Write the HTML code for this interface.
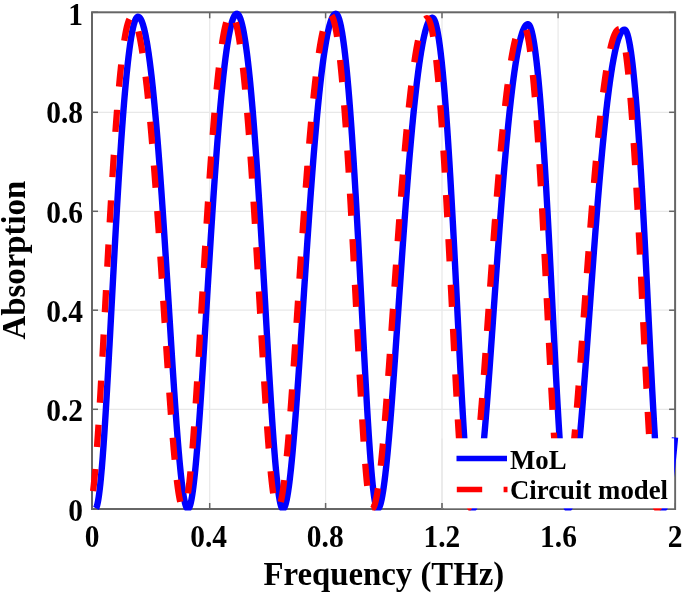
<!DOCTYPE html>
<html><head><meta charset="utf-8"><style>
html,body{margin:0;padding:0;background:#fff;}
svg{display:block;filter:blur(0.45px);}
text{font-family:"Liberation Serif",serif;font-weight:bold;fill:#000;}
</style></head><body>
<svg width="685" height="597" viewBox="0 0 685 597">
<rect width="685" height="597" fill="#fff"/>
<g stroke="#e8e8e8" stroke-width="1.2"><line x1="209.70" y1="12.3" x2="209.70" y2="509.0"/><line x1="325.60" y1="12.3" x2="325.60" y2="509.0"/><line x1="442.00" y1="12.3" x2="442.00" y2="509.0"/><line x1="558.10" y1="12.3" x2="558.10" y2="509.0"/><line x1="92.0" y1="409.30" x2="675.1" y2="409.30"/><line x1="92.0" y1="310.20" x2="675.1" y2="310.20"/><line x1="92.0" y1="211.30" x2="675.1" y2="211.30"/><line x1="92.0" y1="112.30" x2="675.1" y2="112.30"/></g>
<rect x="92.0" y="12.3" width="583.10" height="496.70" fill="none" stroke="#666666" stroke-width="2"/>
<g stroke="#666666" stroke-width="1.5"><line x1="92.00" y1="509.0" x2="92.00" y2="503.0"/><line x1="92.00" y1="12.3" x2="92.00" y2="18.3"/><line x1="209.70" y1="509.0" x2="209.70" y2="503.0"/><line x1="209.70" y1="12.3" x2="209.70" y2="18.3"/><line x1="325.60" y1="509.0" x2="325.60" y2="503.0"/><line x1="325.60" y1="12.3" x2="325.60" y2="18.3"/><line x1="442.00" y1="509.0" x2="442.00" y2="503.0"/><line x1="442.00" y1="12.3" x2="442.00" y2="18.3"/><line x1="558.10" y1="509.0" x2="558.10" y2="503.0"/><line x1="558.10" y1="12.3" x2="558.10" y2="18.3"/><line x1="675.10" y1="509.0" x2="675.10" y2="503.0"/><line x1="675.10" y1="12.3" x2="675.10" y2="18.3"/><line x1="92.0" y1="509.00" x2="98.0" y2="509.00"/><line x1="675.1" y1="509.00" x2="669.1" y2="509.00"/><line x1="92.0" y1="409.30" x2="98.0" y2="409.30"/><line x1="675.1" y1="409.30" x2="669.1" y2="409.30"/><line x1="92.0" y1="310.20" x2="98.0" y2="310.20"/><line x1="675.1" y1="310.20" x2="669.1" y2="310.20"/><line x1="92.0" y1="211.30" x2="98.0" y2="211.30"/><line x1="675.1" y1="211.30" x2="669.1" y2="211.30"/><line x1="92.0" y1="112.30" x2="98.0" y2="112.30"/><line x1="675.1" y1="112.30" x2="669.1" y2="112.30"/><line x1="92.0" y1="12.30" x2="98.0" y2="12.30"/><line x1="675.1" y1="12.30" x2="669.1" y2="12.30"/></g>
<defs><clipPath id="cp"><rect x="80" y="0" width="605" height="510.4"/></clipPath></defs>
<g clip-path="url(#cp)">
<path d="M96.00 508.37 L96.25 507.91 L96.50 507.34 L96.75 506.64 L97.00 505.82 L97.25 504.88 L97.50 503.81 L97.75 502.63 L98.00 501.34 L98.25 499.92 L98.50 498.39 L98.75 496.74 L99.00 494.99 L99.25 493.12 L99.50 491.13 L99.75 489.04 L100.00 486.85 L100.25 484.54 L100.50 482.14 L100.75 479.63 L101.00 477.02 L101.25 474.32 L101.50 471.52 L101.75 468.62 L102.00 465.63 L102.25 462.56 L102.50 459.39 L102.75 456.14 L103.00 452.81 L103.25 449.40 L103.50 445.91 L103.75 442.35 L104.00 438.71 L104.25 435.00 L104.50 431.22 L104.75 427.38 L105.00 423.48 L105.25 419.51 L105.50 415.49 L105.75 411.41 L106.00 407.27 L106.25 403.09 L106.50 398.86 L106.75 394.58 L107.00 390.26 L107.25 385.90 L107.50 381.51 L107.75 377.07 L108.00 372.61 L108.25 368.11 L108.50 363.58 L108.75 359.03 L109.00 354.45 L109.25 349.86 L109.50 345.24 L109.75 340.61 L110.00 335.96 L110.25 331.30 L110.50 326.63 L110.75 321.96 L111.00 317.27 L111.25 312.58 L111.50 307.89 L111.75 303.20 L112.00 298.52 L112.25 293.83 L112.50 289.15 L112.75 284.48 L113.00 279.82 L113.25 275.17 L113.50 270.53 L113.75 265.91 L114.00 261.30 L114.25 256.71 L114.50 252.14 L114.75 247.59 L115.00 243.06 L115.25 238.55 L115.50 234.07 L115.75 229.61 L116.00 225.19 L116.25 220.78 L116.50 216.41 L116.75 212.07 L117.00 207.77 L117.25 203.49 L117.50 199.25 L117.75 195.04 L118.00 190.87 L118.25 186.74 L118.50 182.65 L118.75 178.59 L119.00 174.57 L119.25 170.60 L119.50 166.66 L119.75 162.77 L120.00 158.92 L120.25 155.11 L120.50 151.35 L120.75 147.63 L121.00 143.96 L121.25 140.33 L121.50 136.75 L121.75 133.21 L122.00 129.73 L122.25 126.29 L122.50 122.90 L122.75 119.56 L123.00 116.26 L123.25 113.02 L123.50 109.83 L123.75 106.69 L124.00 103.60 L124.25 100.56 L124.50 97.57 L124.75 94.63 L125.00 91.75 L125.25 88.91 L125.50 86.13 L125.75 83.40 L126.00 80.73 L126.25 78.11 L126.50 75.54 L126.75 73.03 L127.00 70.57 L127.25 68.16 L127.50 65.81 L127.75 63.51 L128.00 61.26 L128.25 59.07 L128.50 56.94 L128.75 54.86 L129.00 52.83 L129.25 50.86 L129.50 48.94 L129.75 47.08 L130.00 45.27 L130.25 43.52 L130.50 41.83 L130.75 40.19 L131.00 38.60 L131.25 37.07 L131.50 35.60 L131.75 34.18 L132.00 32.81 L132.25 31.50 L132.50 30.25 L132.75 29.05 L133.00 27.91 L133.25 26.83 L133.50 25.80 L133.75 24.82 L134.00 23.90 L134.25 23.04 L134.50 22.23 L134.75 21.48 L135.00 20.78 L135.25 20.14 L135.50 19.56 L135.75 19.03 L136.00 18.55 L136.25 18.14 L136.50 17.77 L136.75 17.47 L137.00 17.22 L137.25 17.02 L137.50 16.88 L137.75 16.80 L138.00 16.77 L138.25 16.78 L138.50 16.84 L138.75 16.93 L139.00 17.07 L139.25 17.25 L139.50 17.46 L139.75 17.72 L140.00 18.02 L140.25 18.36 L140.50 18.75 L140.75 19.17 L141.00 19.63 L141.25 20.14 L141.50 20.68 L141.75 21.27 L142.00 21.90 L142.25 22.57 L142.50 23.28 L142.75 24.03 L143.00 24.82 L143.25 25.65 L143.50 26.53 L143.75 27.44 L144.00 28.40 L144.25 29.40 L144.50 30.43 L144.75 31.51 L145.00 32.63 L145.25 33.79 L145.50 34.99 L145.75 36.24 L146.00 37.52 L146.25 38.84 L146.50 40.21 L146.75 41.61 L147.00 43.06 L147.25 44.54 L147.50 46.07 L147.75 47.64 L148.00 49.25 L148.25 50.90 L148.50 52.59 L148.75 54.32 L149.00 56.09 L149.25 57.90 L149.50 59.75 L149.75 61.64 L150.00 63.57 L150.25 65.54 L150.50 67.55 L150.75 69.60 L151.00 71.69 L151.25 73.82 L151.50 75.99 L151.75 78.20 L152.00 80.45 L152.25 82.74 L152.50 85.07 L152.75 87.43 L153.00 89.84 L153.25 92.28 L153.50 94.76 L153.75 97.28 L154.00 99.84 L154.25 102.44 L154.50 105.07 L154.75 107.74 L155.00 110.45 L155.25 113.20 L155.50 115.98 L155.75 118.80 L156.00 121.65 L156.25 124.55 L156.50 127.47 L156.75 130.44 L157.00 133.44 L157.25 136.47 L157.50 139.54 L157.75 142.64 L158.00 145.78 L158.25 148.95 L158.50 152.15 L158.75 155.39 L159.00 158.66 L159.25 161.96 L159.50 165.29 L159.75 168.65 L160.00 172.05 L160.25 175.47 L160.50 178.93 L160.75 182.41 L161.00 185.92 L161.25 189.46 L161.50 193.03 L161.75 196.62 L162.00 200.24 L162.25 203.89 L162.50 207.56 L162.75 211.26 L163.00 214.97 L163.25 218.72 L163.50 222.48 L163.75 226.27 L164.00 230.07 L164.25 233.90 L164.50 237.75 L164.75 241.61 L165.00 245.49 L165.25 249.39 L165.50 253.30 L165.75 257.23 L166.00 261.18 L166.25 265.13 L166.50 269.10 L166.75 273.08 L167.00 277.06 L167.25 281.06 L167.50 285.07 L167.75 289.08 L168.00 293.09 L168.25 297.11 L168.50 301.14 L168.75 305.17 L169.00 309.19 L169.25 313.22 L169.50 317.24 L169.75 321.27 L170.00 325.28 L170.25 329.30 L170.50 333.30 L170.75 337.30 L171.00 341.29 L171.25 345.26 L171.50 349.23 L171.75 353.18 L172.00 357.12 L172.25 361.03 L172.50 364.93 L172.75 368.82 L173.00 372.68 L173.25 376.51 L173.50 380.33 L173.75 384.11 L174.00 387.87 L174.25 391.60 L174.50 395.30 L174.75 398.97 L175.00 402.61 L175.25 406.21 L175.50 409.77 L175.75 413.30 L176.00 416.78 L176.25 420.22 L176.50 423.62 L176.75 426.98 L177.00 430.29 L177.25 433.55 L177.50 436.76 L177.75 439.92 L178.00 443.03 L178.25 446.08 L178.50 449.08 L178.75 452.02 L179.00 454.90 L179.25 457.73 L179.50 460.49 L179.75 463.18 L180.00 465.81 L180.25 468.38 L180.50 470.88 L180.75 473.31 L181.00 475.67 L181.25 477.96 L181.50 480.17 L181.75 482.31 L182.00 484.38 L182.25 486.37 L182.50 488.28 L182.75 490.12 L183.00 491.87 L183.25 493.54 L183.50 495.14 L183.75 496.65 L184.00 498.07 L184.25 499.41 L184.50 500.67 L184.75 501.84 L185.00 502.92 L185.25 503.92 L185.50 504.83 L185.75 505.65 L186.00 506.38 L186.25 507.02 L186.50 507.58 L186.75 508.04 L187.00 508.41 L187.25 508.69 L187.50 508.88 L187.75 508.98 L188.00 508.99 L188.25 508.91 L188.50 508.73 L188.75 508.45 L189.00 508.08 L189.25 507.62 L189.50 507.06 L189.75 506.41 L190.00 505.67 L190.25 504.83 L190.50 503.91 L190.75 502.89 L191.00 501.78 L191.25 500.58 L191.50 499.29 L191.75 497.91 L192.00 496.44 L192.25 494.89 L192.50 493.25 L192.75 491.52 L193.00 489.71 L193.25 487.82 L193.50 485.85 L193.75 483.79 L194.00 481.66 L194.25 479.45 L194.50 477.16 L194.75 474.80 L195.00 472.36 L195.25 469.85 L195.50 467.27 L195.75 464.62 L196.00 461.90 L196.25 459.11 L196.50 456.26 L196.75 453.34 L197.00 450.36 L197.25 447.32 L197.50 444.23 L197.75 441.07 L198.00 437.86 L198.25 434.60 L198.50 431.28 L198.75 427.91 L199.00 424.49 L199.25 421.03 L199.50 417.52 L199.75 413.96 L200.00 410.37 L200.25 406.73 L200.50 403.06 L200.75 399.34 L201.00 395.59 L201.25 391.81 L201.50 388.00 L201.75 384.15 L202.00 380.28 L202.25 376.38 L202.50 372.45 L202.75 368.50 L203.00 364.53 L203.25 360.54 L203.50 356.52 L203.75 352.49 L204.00 348.45 L204.25 344.39 L204.50 340.31 L204.75 336.23 L205.00 332.13 L205.25 328.03 L205.50 323.92 L205.75 319.80 L206.00 315.68 L206.25 311.56 L206.50 307.44 L206.75 303.31 L207.00 299.19 L207.25 295.06 L207.50 290.95 L207.75 286.83 L208.00 282.73 L208.25 278.63 L208.50 274.53 L208.75 270.45 L209.00 266.38 L209.25 262.32 L209.50 258.27 L209.75 254.24 L210.00 250.22 L210.25 246.22 L210.50 242.23 L210.75 238.26 L211.00 234.31 L211.25 230.38 L211.50 226.47 L211.75 222.58 L212.00 218.71 L212.25 214.87 L212.50 211.05 L212.75 207.25 L213.00 203.48 L213.25 199.74 L213.50 196.02 L213.75 192.33 L214.00 188.66 L214.25 185.03 L214.50 181.42 L214.75 177.84 L215.00 174.30 L215.25 170.78 L215.50 167.30 L215.75 163.84 L216.00 160.42 L216.25 157.04 L216.50 153.68 L216.75 150.36 L217.00 147.08 L217.25 143.82 L217.50 140.61 L217.75 137.43 L218.00 134.28 L218.25 131.17 L218.50 128.10 L218.75 125.06 L219.00 122.06 L219.25 119.10 L219.50 116.18 L219.75 113.29 L220.00 110.45 L220.25 107.64 L220.50 104.87 L220.75 102.14 L221.00 99.44 L221.25 96.79 L221.50 94.18 L221.75 91.60 L222.00 89.07 L222.25 86.58 L222.50 84.13 L222.75 81.71 L223.00 79.34 L223.25 77.01 L223.50 74.72 L223.75 72.47 L224.00 70.27 L224.25 68.10 L224.50 65.97 L224.75 63.89 L225.00 61.85 L225.25 59.85 L225.50 57.89 L225.75 55.98 L226.00 54.10 L226.25 52.27 L226.50 50.48 L226.75 48.73 L227.00 47.03 L227.25 45.36 L227.50 43.74 L227.75 42.16 L228.00 40.63 L228.25 39.13 L228.50 37.68 L228.75 36.27 L229.00 34.91 L229.25 33.59 L229.50 32.30 L229.75 31.07 L230.00 29.87 L230.25 28.72 L230.50 27.61 L230.75 26.54 L231.00 25.52 L231.25 24.54 L231.50 23.60 L231.75 22.70 L232.00 21.85 L232.25 21.04 L232.50 20.27 L232.75 19.55 L233.00 18.87 L233.25 18.23 L233.50 17.63 L233.75 17.08 L234.00 16.57 L234.25 16.10 L234.50 15.68 L234.75 15.30 L235.00 14.96 L235.25 14.66 L235.50 14.41 L235.75 14.20 L236.00 14.03 L236.25 13.91 L236.50 13.83 L236.75 13.79 L237.00 13.81 L237.25 13.87 L237.50 13.98 L237.75 14.14 L238.00 14.35 L238.25 14.60 L238.50 14.91 L238.75 15.26 L239.00 15.66 L239.25 16.11 L239.50 16.61 L239.75 17.15 L240.00 17.75 L240.25 18.39 L240.50 19.08 L240.75 19.82 L241.00 20.61 L241.25 21.44 L241.50 22.33 L241.75 23.26 L242.00 24.24 L242.25 25.27 L242.50 26.35 L242.75 27.47 L243.00 28.64 L243.25 29.87 L243.50 31.14 L243.75 32.45 L244.00 33.82 L244.25 35.23 L244.50 36.69 L244.75 38.20 L245.00 39.76 L245.25 41.37 L245.50 43.02 L245.75 44.72 L246.00 46.47 L246.25 48.27 L246.50 50.11 L246.75 52.00 L247.00 53.94 L247.25 55.93 L247.50 57.96 L247.75 60.05 L248.00 62.17 L248.25 64.35 L248.50 66.57 L248.75 68.84 L249.00 71.16 L249.25 73.52 L249.50 75.93 L249.75 78.38 L250.00 80.88 L250.25 83.43 L250.50 86.02 L250.75 88.66 L251.00 91.34 L251.25 94.07 L251.50 96.85 L251.75 99.67 L252.00 102.53 L252.25 105.43 L252.50 108.39 L252.75 111.38 L253.00 114.42 L253.25 117.50 L253.50 120.62 L253.75 123.79 L254.00 127.00 L254.25 130.25 L254.50 133.54 L254.75 136.87 L255.00 140.24 L255.25 143.65 L255.50 147.10 L255.75 150.59 L256.00 154.12 L256.25 157.69 L256.50 161.29 L256.75 164.93 L257.00 168.61 L257.25 172.33 L257.50 176.07 L257.75 179.86 L258.00 183.67 L258.25 187.52 L258.50 191.40 L258.75 195.32 L259.00 199.26 L259.25 203.24 L259.50 207.24 L259.75 211.27 L260.00 215.33 L260.25 219.42 L260.50 223.53 L260.75 227.66 L261.00 231.82 L261.25 236.01 L261.50 240.21 L261.75 244.43 L262.00 248.68 L262.25 252.94 L262.50 257.22 L262.75 261.51 L263.00 265.82 L263.25 270.14 L263.50 274.48 L263.75 278.82 L264.00 283.18 L264.25 287.54 L264.50 291.91 L264.75 296.29 L265.00 300.66 L265.25 305.04 L265.50 309.42 L265.75 313.80 L266.00 318.18 L266.25 322.55 L266.50 326.92 L266.75 331.28 L267.00 335.63 L267.25 339.97 L267.50 344.30 L267.75 348.61 L268.00 352.90 L268.25 357.18 L268.50 361.44 L268.75 365.67 L269.00 369.88 L269.25 374.07 L269.50 378.23 L269.75 382.35 L270.00 386.45 L270.25 390.51 L270.50 394.54 L270.75 398.53 L271.00 402.48 L271.25 406.39 L271.50 410.25 L271.75 414.07 L272.00 417.85 L272.25 421.57 L272.50 425.24 L272.75 428.85 L273.00 432.41 L273.25 435.92 L273.50 439.36 L273.75 442.74 L274.00 446.06 L274.25 449.31 L274.50 452.49 L274.75 455.60 L275.00 458.65 L275.25 461.62 L275.50 464.51 L275.75 467.33 L276.00 470.06 L276.25 472.72 L276.50 475.30 L276.75 477.79 L277.00 480.19 L277.25 482.51 L277.50 484.74 L277.75 486.88 L278.00 488.93 L278.25 490.89 L278.50 492.75 L278.75 494.51 L279.00 496.18 L279.25 497.75 L279.50 499.22 L279.75 500.60 L280.00 501.87 L280.25 503.04 L280.50 504.10 L280.75 505.06 L281.00 505.92 L281.25 506.68 L281.50 507.33 L281.75 507.87 L282.00 508.31 L282.25 508.64 L282.50 508.86 L282.75 508.98 L283.00 508.99 L283.25 508.92 L283.50 508.77 L283.75 508.53 L284.00 508.21 L284.25 507.82 L284.50 507.34 L284.75 506.78 L285.00 506.15 L285.25 505.43 L285.50 504.63 L285.75 503.76 L286.00 502.80 L286.25 501.77 L286.50 500.66 L286.75 499.48 L287.00 498.22 L287.25 496.88 L287.50 495.47 L287.75 493.98 L288.00 492.42 L288.25 490.79 L288.50 489.09 L288.75 487.32 L289.00 485.47 L289.25 483.56 L289.50 481.58 L289.75 479.53 L290.00 477.42 L290.25 475.24 L290.50 473.00 L290.75 470.70 L291.00 468.33 L291.25 465.91 L291.50 463.42 L291.75 460.88 L292.00 458.28 L292.25 455.63 L292.50 452.92 L292.75 450.16 L293.00 447.34 L293.25 444.48 L293.50 441.56 L293.75 438.60 L294.00 435.59 L294.25 432.54 L294.50 429.44 L294.75 426.30 L295.00 423.12 L295.25 419.90 L295.50 416.64 L295.75 413.34 L296.00 410.01 L296.25 406.64 L296.50 403.24 L296.75 399.80 L297.00 396.34 L297.25 392.85 L297.50 389.33 L297.75 385.78 L298.00 382.21 L298.25 378.61 L298.50 374.99 L298.75 371.35 L299.00 367.69 L299.25 364.01 L299.50 360.31 L299.75 356.60 L300.00 352.87 L300.25 349.13 L300.50 345.37 L300.75 341.61 L301.00 337.83 L301.25 334.04 L301.50 330.25 L301.75 326.45 L302.00 322.64 L302.25 318.83 L302.50 315.02 L302.75 311.20 L303.00 307.39 L303.25 303.57 L303.50 299.75 L303.75 295.94 L304.00 292.13 L304.25 288.32 L304.50 284.51 L304.75 280.72 L305.00 276.93 L305.25 273.14 L305.50 269.37 L305.75 265.60 L306.00 261.85 L306.25 258.10 L306.50 254.37 L306.75 250.65 L307.00 246.94 L307.25 243.25 L307.50 239.57 L307.75 235.91 L308.00 232.27 L308.25 228.64 L308.50 225.03 L308.75 221.43 L309.00 217.86 L309.25 214.31 L309.50 210.78 L309.75 207.26 L310.00 203.77 L310.25 200.30 L310.50 196.86 L310.75 193.44 L311.00 190.04 L311.25 186.66 L311.50 183.31 L311.75 179.99 L312.00 176.69 L312.25 173.41 L312.50 170.17 L312.75 166.95 L313.00 163.75 L313.25 160.59 L313.50 157.45 L313.75 154.34 L314.00 151.26 L314.25 148.21 L314.50 145.19 L314.75 142.20 L315.00 139.24 L315.25 136.31 L315.50 133.41 L315.75 130.54 L316.00 127.70 L316.25 124.90 L316.50 122.12 L316.75 119.38 L317.00 116.67 L317.25 114.00 L317.50 111.35 L317.75 108.74 L318.00 106.16 L318.25 103.62 L318.50 101.10 L318.75 98.63 L319.00 96.18 L319.25 93.77 L319.50 91.40 L319.75 89.05 L320.00 86.75 L320.25 84.47 L320.50 82.24 L320.75 80.03 L321.00 77.86 L321.25 75.73 L321.50 73.63 L321.75 71.57 L322.00 69.54 L322.25 67.55 L322.50 65.59 L322.75 63.67 L323.00 61.78 L323.25 59.93 L323.50 58.12 L323.75 56.34 L324.00 54.60 L324.25 52.89 L324.50 51.22 L324.75 49.59 L325.00 47.99 L325.25 46.43 L325.50 44.90 L325.75 43.41 L326.00 41.96 L326.25 40.54 L326.50 39.16 L326.75 37.82 L327.00 36.51 L327.25 35.24 L327.50 34.00 L327.75 32.81 L328.00 31.64 L328.25 30.52 L328.50 29.43 L328.75 28.38 L329.00 27.36 L329.25 26.38 L329.50 25.44 L329.75 24.53 L330.00 23.66 L330.25 22.83 L330.50 22.04 L330.75 21.28 L331.00 20.55 L331.25 19.87 L331.50 19.22 L331.75 18.61 L332.00 18.03 L332.25 17.49 L332.50 16.99 L332.75 16.52 L333.00 16.09 L333.25 15.70 L333.50 15.34 L333.75 15.02 L334.00 14.74 L334.25 14.50 L334.50 14.29 L334.75 14.11 L335.00 13.98 L335.25 13.88 L335.50 13.82 L335.75 13.79 L336.00 13.82 L336.25 13.91 L336.50 14.05 L336.75 14.26 L337.00 14.52 L337.25 14.85 L337.50 15.23 L337.75 15.67 L338.00 16.17 L338.25 16.73 L338.50 17.35 L338.75 18.02 L339.00 18.76 L339.25 19.55 L339.50 20.40 L339.75 21.31 L340.00 22.28 L340.25 23.31 L340.50 24.39 L340.75 25.54 L341.00 26.74 L341.25 28.00 L341.50 29.32 L341.75 30.70 L342.00 32.14 L342.25 33.64 L342.50 35.19 L342.75 36.80 L343.00 38.47 L343.25 40.20 L343.50 41.99 L343.75 43.83 L344.00 45.74 L344.25 47.70 L344.50 49.72 L344.75 51.79 L345.00 53.93 L345.25 56.12 L345.50 58.37 L345.75 60.67 L346.00 63.04 L346.25 65.46 L346.50 67.93 L346.75 70.47 L347.00 73.06 L347.25 75.70 L347.50 78.41 L347.75 81.17 L348.00 83.98 L348.25 86.85 L348.50 89.77 L348.75 92.75 L349.00 95.79 L349.25 98.88 L349.50 102.02 L349.75 105.22 L350.00 108.47 L350.25 111.77 L350.50 115.12 L350.75 118.53 L351.00 121.99 L351.25 125.50 L351.50 129.06 L351.75 132.67 L352.00 136.33 L352.25 140.04 L352.50 143.80 L352.75 147.60 L353.00 151.46 L353.25 155.36 L353.50 159.30 L353.75 163.29 L354.00 167.33 L354.25 171.40 L354.50 175.53 L354.75 179.69 L355.00 183.89 L355.25 188.14 L355.50 192.42 L355.75 196.74 L356.00 201.10 L356.25 205.49 L356.50 209.92 L356.75 214.38 L357.00 218.88 L357.25 223.40 L357.50 227.96 L357.75 232.54 L358.00 237.15 L358.25 241.79 L358.50 246.45 L358.75 251.13 L359.00 255.84 L359.25 260.57 L359.50 265.31 L359.75 270.07 L360.00 274.84 L360.25 279.63 L360.50 284.43 L360.75 289.23 L361.00 294.05 L361.25 298.87 L361.50 303.69 L361.75 308.51 L362.00 313.34 L362.25 318.16 L362.50 322.97 L362.75 327.78 L363.00 332.58 L363.25 337.37 L363.50 342.14 L363.75 346.89 L364.00 351.63 L364.25 356.35 L364.50 361.04 L364.75 365.70 L365.00 370.34 L365.25 374.94 L365.50 379.51 L365.75 384.05 L366.00 388.54 L366.25 392.99 L366.50 397.40 L366.75 401.76 L367.00 406.07 L367.25 410.33 L367.50 414.53 L367.75 418.67 L368.00 422.76 L368.25 426.78 L368.50 430.73 L368.75 434.61 L369.00 438.42 L369.25 442.16 L369.50 445.82 L369.75 449.41 L370.00 452.90 L370.25 456.32 L370.50 459.65 L370.75 462.88 L371.00 466.03 L371.25 469.08 L371.50 472.03 L371.75 474.89 L372.00 477.64 L372.25 480.29 L372.50 482.83 L372.75 485.27 L373.00 487.60 L373.25 489.81 L373.50 491.91 L373.75 493.90 L374.00 495.77 L374.25 497.52 L374.50 499.15 L374.75 500.66 L375.00 502.05 L375.25 503.31 L375.50 504.45 L375.75 505.47 L376.00 506.36 L376.25 507.12 L376.50 507.75 L376.75 508.25 L377.00 508.63 L377.25 508.87 L377.50 508.99 L377.75 508.99 L378.00 508.90 L378.25 508.75 L378.50 508.51 L378.75 508.20 L379.00 507.82 L379.25 507.36 L379.50 506.83 L379.75 506.22 L380.00 505.54 L380.25 504.79 L380.50 503.96 L380.75 503.06 L381.00 502.09 L381.25 501.04 L381.50 499.93 L381.75 498.74 L382.00 497.49 L382.25 496.16 L382.50 494.77 L382.75 493.30 L383.00 491.77 L383.25 490.17 L383.50 488.51 L383.75 486.78 L384.00 484.99 L384.25 483.13 L384.50 481.22 L384.75 479.23 L385.00 477.19 L385.25 475.09 L385.50 472.93 L385.75 470.71 L386.00 468.44 L386.25 466.11 L386.50 463.72 L386.75 461.28 L387.00 458.79 L387.25 456.25 L387.50 453.65 L387.75 451.01 L388.00 448.32 L388.25 445.58 L388.50 442.80 L388.75 439.97 L389.00 437.10 L389.25 434.18 L389.50 431.22 L389.75 428.23 L390.00 425.19 L390.25 422.12 L390.50 419.01 L390.75 415.87 L391.00 412.69 L391.25 409.48 L391.50 406.24 L391.75 402.96 L392.00 399.66 L392.25 396.33 L392.50 392.97 L392.75 389.59 L393.00 386.19 L393.25 382.76 L393.50 379.30 L393.75 375.83 L394.00 372.34 L394.25 368.83 L394.50 365.30 L394.75 361.75 L395.00 358.19 L395.25 354.62 L395.50 351.03 L395.75 347.43 L396.00 343.82 L396.25 340.20 L396.50 336.57 L396.75 332.94 L397.00 329.30 L397.25 325.65 L397.50 322.00 L397.75 318.34 L398.00 314.68 L398.25 311.02 L398.50 307.36 L398.75 303.70 L399.00 300.04 L399.25 296.38 L399.50 292.73 L399.75 289.08 L400.00 285.43 L400.25 281.79 L400.50 278.16 L400.75 274.53 L401.00 270.91 L401.25 267.30 L401.50 263.70 L401.75 260.11 L402.00 256.53 L402.25 252.96 L402.50 249.40 L402.75 245.86 L403.00 242.33 L403.25 238.82 L403.50 235.32 L403.75 231.84 L404.00 228.37 L404.25 224.92 L404.50 221.49 L404.75 218.07 L405.00 214.67 L405.25 211.30 L405.50 207.94 L405.75 204.60 L406.00 201.29 L406.25 197.99 L406.50 194.72 L406.75 191.47 L407.00 188.24 L407.25 185.03 L407.50 181.85 L407.75 178.69 L408.00 175.56 L408.25 172.45 L408.50 169.36 L408.75 166.31 L409.00 163.27 L409.25 160.27 L409.50 157.28 L409.75 154.33 L410.00 151.40 L410.25 148.50 L410.50 145.63 L410.75 142.79 L411.00 139.97 L411.25 137.18 L411.50 134.43 L411.75 131.70 L412.00 128.99 L412.25 126.32 L412.50 123.68 L412.75 121.07 L413.00 118.49 L413.25 115.94 L413.50 113.42 L413.75 110.92 L414.00 108.47 L414.25 106.04 L414.50 103.64 L414.75 101.27 L415.00 98.94 L415.25 96.63 L415.50 94.36 L415.75 92.12 L416.00 89.91 L416.25 87.74 L416.50 85.59 L416.75 83.48 L417.00 81.40 L417.25 79.36 L417.50 77.34 L417.75 75.36 L418.00 73.41 L418.25 71.49 L418.50 69.61 L418.75 67.76 L419.00 65.94 L419.25 64.16 L419.50 62.41 L419.75 60.69 L420.00 59.01 L420.25 57.35 L420.50 55.74 L420.75 54.15 L421.00 52.60 L421.25 51.08 L421.50 49.60 L421.75 48.15 L422.00 46.73 L422.25 45.35 L422.50 44.00 L422.75 42.68 L423.00 41.40 L423.25 40.15 L423.50 38.94 L423.75 37.76 L424.00 36.61 L424.25 35.50 L424.50 34.42 L424.75 33.37 L425.00 32.36 L425.25 31.38 L425.50 30.44 L425.75 29.53 L426.00 28.65 L426.25 27.81 L426.50 27.00 L426.75 26.22 L427.00 25.48 L427.25 24.78 L427.50 24.10 L427.75 23.46 L428.00 22.86 L428.25 22.29 L428.50 21.75 L428.75 21.25 L429.00 20.78 L429.25 20.34 L429.50 19.94 L429.75 19.57 L430.00 19.24 L430.25 18.94 L430.50 18.67 L430.75 18.44 L431.00 18.24 L431.25 18.08 L431.50 17.95 L431.75 17.85 L432.00 17.79 L432.25 17.76 L432.50 17.78 L432.75 17.85 L433.00 17.99 L433.25 18.20 L433.50 18.46 L433.75 18.79 L434.00 19.18 L434.25 19.64 L434.50 20.16 L434.75 20.74 L435.00 21.38 L435.25 22.09 L435.50 22.86 L435.75 23.69 L436.00 24.58 L436.25 25.54 L436.50 26.56 L436.75 27.65 L437.00 28.79 L437.25 30.00 L437.50 31.28 L437.75 32.61 L438.00 34.01 L438.25 35.47 L438.50 36.99 L438.75 38.58 L439.00 40.22 L439.25 41.93 L439.50 43.71 L439.75 45.54 L440.00 47.44 L440.25 49.40 L440.50 51.42 L440.75 53.50 L441.00 55.65 L441.25 57.85 L441.50 60.12 L441.75 62.45 L442.00 64.84 L442.25 67.29 L442.50 69.80 L442.75 72.38 L443.00 75.01 L443.25 77.71 L443.50 80.46 L443.75 83.28 L444.00 86.15 L444.25 89.09 L444.50 92.08 L444.75 95.13 L445.00 98.24 L445.25 101.41 L445.50 104.64 L445.75 107.92 L446.00 111.26 L446.25 114.66 L446.50 118.12 L446.75 121.63 L447.00 125.19 L447.25 128.81 L447.50 132.49 L447.75 136.21 L448.00 139.99 L448.25 143.83 L448.50 147.71 L448.75 151.65 L449.00 155.64 L449.25 159.67 L449.50 163.76 L449.75 167.89 L450.00 172.07 L450.25 176.29 L450.50 180.56 L450.75 184.88 L451.00 189.24 L451.25 193.64 L451.50 198.08 L451.75 202.56 L452.00 207.08 L452.25 211.64 L452.50 216.23 L452.75 220.86 L453.00 225.52 L453.25 230.22 L453.50 234.94 L453.75 239.70 L454.00 244.48 L454.25 249.28 L454.50 254.12 L454.75 258.97 L455.00 263.84 L455.25 268.74 L455.50 273.65 L455.75 278.57 L456.00 283.51 L456.25 288.46 L456.50 293.41 L456.75 298.38 L457.00 303.35 L457.25 308.32 L457.50 313.29 L457.75 318.26 L458.00 323.22 L458.25 328.18 L458.50 333.12 L458.75 338.06 L459.00 342.98 L459.25 347.88 L459.50 352.76 L459.75 357.62 L460.00 362.45 L460.25 367.26 L460.50 372.03 L460.75 376.77 L461.00 381.48 L461.25 386.14 L461.50 390.76 L461.75 395.33 L462.00 399.86 L462.25 404.33 L462.50 408.75 L462.75 413.11 L463.00 417.41 L463.25 421.65 L463.50 425.82 L463.75 429.92 L464.00 433.95 L464.25 437.90 L464.50 441.77 L464.75 445.56 L465.00 449.27 L465.25 452.89 L465.50 456.42 L465.75 459.85 L466.00 463.19 L466.25 466.43 L466.50 469.57 L466.75 472.61 L467.00 475.54 L467.25 478.36 L467.50 481.07 L467.75 483.66 L468.00 486.14 L468.25 488.50 L468.50 490.75 L468.75 492.86 L469.00 494.86 L469.25 496.73 L469.50 498.47 L469.75 500.09 L470.00 501.57 L470.25 502.92 L470.50 504.14 L470.75 505.22 L471.00 506.17 L471.25 506.98 L471.50 507.66 L471.75 508.20 L472.00 508.60 L472.25 508.86 L472.50 508.99 L472.75 508.99 L473.00 508.91 L473.25 508.75 L473.50 508.53 L473.75 508.23 L474.00 507.86 L474.25 507.41 L474.50 506.90 L474.75 506.31 L475.00 505.65 L475.25 504.92 L475.50 504.12 L475.75 503.25 L476.00 502.31 L476.25 501.30 L476.50 500.22 L476.75 499.07 L477.00 497.85 L477.25 496.57 L477.50 495.22 L477.75 493.80 L478.00 492.32 L478.25 490.77 L478.50 489.16 L478.75 487.49 L479.00 485.75 L479.25 483.95 L479.50 482.09 L479.75 480.17 L480.00 478.19 L480.25 476.16 L480.50 474.06 L480.75 471.91 L481.00 469.71 L481.25 467.45 L481.50 465.14 L481.75 462.77 L482.00 460.35 L482.25 457.89 L482.50 455.37 L482.75 452.81 L483.00 450.20 L483.25 447.54 L483.50 444.84 L483.75 442.09 L484.00 439.30 L484.25 436.47 L484.50 433.60 L484.75 430.69 L485.00 427.74 L485.25 424.76 L485.50 421.74 L485.75 418.68 L486.00 415.60 L486.25 412.48 L486.50 409.32 L486.75 406.14 L487.00 402.93 L487.25 399.69 L487.50 396.43 L487.75 393.14 L488.00 389.82 L488.25 386.48 L488.50 383.12 L488.75 379.74 L489.00 376.34 L489.25 372.92 L489.50 369.49 L489.75 366.03 L490.00 362.56 L490.25 359.08 L490.50 355.58 L490.75 352.07 L491.00 348.56 L491.25 345.03 L491.50 341.49 L491.75 337.94 L492.00 334.38 L492.25 330.82 L492.50 327.26 L492.75 323.69 L493.00 320.12 L493.25 316.54 L493.50 312.96 L493.75 309.39 L494.00 305.81 L494.25 302.23 L494.50 298.66 L494.75 295.09 L495.00 291.52 L495.25 287.96 L495.50 284.40 L495.75 280.85 L496.00 277.31 L496.25 273.77 L496.50 270.25 L496.75 266.73 L497.00 263.22 L497.25 259.72 L497.50 256.24 L497.75 252.77 L498.00 249.30 L498.25 245.86 L498.50 242.42 L498.75 239.00 L499.00 235.60 L499.25 232.21 L499.50 228.84 L499.75 225.48 L500.00 222.15 L500.25 218.83 L500.50 215.52 L500.75 212.24 L501.00 208.98 L501.25 205.74 L501.50 202.52 L501.75 199.31 L502.00 196.13 L502.25 192.98 L502.50 189.84 L502.75 186.73 L503.00 183.64 L503.25 180.57 L503.50 177.53 L503.75 174.51 L504.00 171.51 L504.25 168.54 L504.50 165.60 L504.75 162.68 L505.00 159.79 L505.25 156.92 L505.50 154.08 L505.75 151.27 L506.00 148.48 L506.25 145.72 L506.50 142.99 L506.75 140.28 L507.00 137.60 L507.25 134.96 L507.50 132.34 L507.75 129.74 L508.00 127.18 L508.25 124.65 L508.50 122.14 L508.75 119.67 L509.00 117.22 L509.25 114.80 L509.50 112.42 L509.75 110.06 L510.00 107.74 L510.25 105.44 L510.50 103.17 L510.75 100.94 L511.00 98.74 L511.25 96.56 L511.50 94.42 L511.75 92.31 L512.00 90.23 L512.25 88.18 L512.50 86.16 L512.75 84.18 L513.00 82.22 L513.25 80.30 L513.50 78.41 L513.75 76.55 L514.00 74.72 L514.25 72.92 L514.50 71.16 L514.75 69.43 L515.00 67.73 L515.25 66.06 L515.50 64.43 L515.75 62.82 L516.00 61.25 L516.25 59.71 L516.50 58.21 L516.75 56.73 L517.00 55.29 L517.25 53.88 L517.50 52.51 L517.75 51.16 L518.00 49.85 L518.25 48.57 L518.50 47.33 L518.75 46.11 L519.00 44.93 L519.25 43.78 L519.50 42.67 L519.75 41.58 L520.00 40.53 L520.25 39.52 L520.50 38.53 L520.75 37.58 L521.00 36.66 L521.25 35.77 L521.50 34.92 L521.75 34.10 L522.00 33.31 L522.25 32.55 L522.50 31.83 L522.75 31.14 L523.00 30.48 L523.25 29.86 L523.50 29.27 L523.75 28.71 L524.00 28.18 L524.25 27.69 L524.50 27.23 L524.75 26.80 L525.00 26.41 L525.25 26.04 L525.50 25.71 L525.75 25.42 L526.00 25.15 L526.25 24.92 L526.50 24.72 L526.75 24.56 L527.00 24.42 L527.25 24.32 L527.50 24.26 L527.75 24.22 L528.00 24.22 L528.25 24.27 L528.50 24.38 L528.75 24.56 L529.00 24.79 L529.25 25.10 L529.50 25.46 L529.75 25.89 L530.00 26.38 L530.25 26.93 L530.50 27.55 L530.75 28.23 L531.00 28.97 L531.25 29.78 L531.50 30.65 L531.75 31.58 L532.00 32.57 L532.25 33.63 L532.50 34.75 L532.75 35.93 L533.00 37.18 L533.25 38.49 L533.50 39.86 L533.75 41.30 L534.00 42.79 L534.25 44.35 L534.50 45.98 L534.75 47.66 L535.00 49.41 L535.25 51.22 L535.50 53.09 L535.75 55.03 L536.00 57.03 L536.25 59.08 L536.50 61.21 L536.75 63.39 L537.00 65.63 L537.25 67.94 L537.50 70.31 L537.75 72.74 L538.00 75.23 L538.25 77.78 L538.50 80.39 L538.75 83.06 L539.00 85.80 L539.25 88.59 L539.50 91.44 L539.75 94.35 L540.00 97.33 L540.25 100.36 L540.50 103.45 L540.75 106.60 L541.00 109.80 L541.25 113.07 L541.50 116.39 L541.75 119.76 L542.00 123.20 L542.25 126.69 L542.50 130.23 L542.75 133.84 L543.00 137.49 L543.25 141.20 L543.50 144.96 L543.75 148.77 L544.00 152.64 L544.25 156.56 L544.50 160.53 L544.75 164.54 L545.00 168.61 L545.25 172.72 L545.50 176.88 L545.75 181.09 L546.00 185.34 L546.25 189.64 L546.50 193.98 L546.75 198.36 L547.00 202.79 L547.25 207.25 L547.50 211.75 L547.75 216.29 L548.00 220.86 L548.25 225.47 L548.50 230.12 L548.75 234.79 L549.00 239.50 L549.25 244.23 L549.50 248.99 L549.75 253.78 L550.00 258.59 L550.25 263.42 L550.50 268.27 L550.75 273.14 L551.00 278.03 L551.25 282.93 L551.50 287.85 L551.75 292.77 L552.00 297.70 L552.25 302.64 L552.50 307.59 L552.75 312.53 L553.00 317.47 L553.25 322.41 L553.50 327.35 L553.75 332.28 L554.00 337.19 L554.25 342.10 L554.50 346.98 L554.75 351.85 L555.00 356.70 L555.25 361.52 L555.50 366.32 L555.75 371.08 L556.00 375.82 L556.25 380.52 L556.50 385.18 L556.75 389.80 L557.00 394.37 L557.25 398.90 L557.50 403.38 L557.75 407.80 L558.00 412.17 L558.25 416.48 L558.50 420.72 L558.75 424.90 L559.00 429.02 L559.25 433.06 L559.50 437.02 L559.75 440.91 L560.00 444.72 L560.25 448.45 L560.50 452.08 L560.75 455.63 L561.00 459.09 L561.25 462.45 L561.50 465.71 L561.75 468.88 L562.00 471.94 L562.25 474.89 L562.50 477.74 L562.75 480.47 L563.00 483.10 L563.25 485.60 L563.50 487.99 L563.75 490.26 L564.00 492.41 L564.25 494.44 L564.50 496.34 L564.75 498.11 L565.00 499.75 L565.25 501.26 L565.50 502.64 L565.75 503.89 L566.00 505.01 L566.25 505.98 L566.50 506.83 L566.75 507.53 L567.00 508.10 L567.25 508.53 L567.50 508.82 L567.75 508.98 L568.00 508.99 L568.25 508.93 L568.50 508.80 L568.75 508.60 L569.00 508.33 L569.25 507.99 L569.50 507.59 L569.75 507.11 L570.00 506.57 L570.25 505.96 L570.50 505.28 L570.75 504.54 L571.00 503.73 L571.25 502.85 L571.50 501.90 L571.75 500.89 L572.00 499.82 L572.25 498.68 L572.50 497.48 L572.75 496.21 L573.00 494.88 L573.25 493.49 L573.50 492.03 L573.75 490.52 L574.00 488.94 L574.25 487.30 L574.50 485.61 L574.75 483.86 L575.00 482.05 L575.25 480.18 L575.50 478.26 L575.75 476.28 L576.00 474.25 L576.25 472.16 L576.50 470.03 L576.75 467.84 L577.00 465.60 L577.25 463.31 L577.50 460.97 L577.75 458.59 L578.00 456.16 L578.25 453.68 L578.50 451.16 L578.75 448.60 L579.00 445.99 L579.25 443.34 L579.50 440.65 L579.75 437.92 L580.00 435.15 L580.25 432.35 L580.50 429.51 L580.75 426.63 L581.00 423.72 L581.25 420.77 L581.50 417.80 L581.75 414.79 L582.00 411.75 L582.25 408.69 L582.50 405.59 L582.75 402.47 L583.00 399.33 L583.25 396.16 L583.50 392.96 L583.75 389.74 L584.00 386.51 L584.25 383.25 L584.50 379.97 L584.75 376.67 L585.00 373.36 L585.25 370.03 L585.50 366.68 L585.75 363.32 L586.00 359.95 L586.25 356.57 L586.50 353.17 L586.75 349.76 L587.00 346.35 L587.25 342.92 L587.50 339.49 L587.75 336.05 L588.00 332.61 L588.25 329.16 L588.50 325.70 L588.75 322.25 L589.00 318.79 L589.25 315.33 L589.50 311.87 L589.75 308.40 L590.00 304.95 L590.25 301.49 L590.50 298.03 L590.75 294.58 L591.00 291.14 L591.25 287.69 L591.50 284.26 L591.75 280.83 L592.00 277.40 L592.25 273.99 L592.50 270.58 L592.75 267.19 L593.00 263.80 L593.25 260.42 L593.50 257.06 L593.75 253.70 L594.00 250.36 L594.25 247.03 L594.50 243.72 L594.75 240.42 L595.00 237.13 L595.25 233.86 L595.50 230.61 L595.75 227.37 L596.00 224.15 L596.25 220.94 L596.50 217.75 L596.75 214.58 L597.00 211.43 L597.25 208.30 L597.50 205.19 L597.75 202.10 L598.00 199.03 L598.25 195.97 L598.50 192.94 L598.75 189.94 L599.00 186.95 L599.25 183.98 L599.50 181.04 L599.75 178.12 L600.00 175.23 L600.25 172.35 L600.50 169.51 L600.75 166.68 L601.00 163.88 L601.25 161.11 L601.50 158.35 L601.75 155.63 L602.00 152.93 L602.25 150.26 L602.50 147.61 L602.75 144.99 L603.00 142.39 L603.25 139.82 L603.50 137.28 L603.75 134.76 L604.00 132.27 L604.25 129.81 L604.50 127.38 L604.75 124.98 L605.00 122.60 L605.25 120.25 L605.50 117.93 L605.75 115.63 L606.00 113.37 L606.25 111.13 L606.50 108.93 L606.75 106.75 L607.00 104.60 L607.25 102.48 L607.50 100.39 L607.75 98.33 L608.00 96.30 L608.25 94.29 L608.50 92.32 L608.75 90.38 L609.00 88.46 L609.25 86.58 L609.50 84.73 L609.75 82.90 L610.00 81.11 L610.25 79.35 L610.50 77.61 L610.75 75.91 L611.00 74.24 L611.25 72.60 L611.50 70.98 L611.75 69.40 L612.00 67.85 L612.25 66.33 L612.50 64.84 L612.75 63.38 L613.00 61.95 L613.25 60.56 L613.50 59.19 L613.75 57.85 L614.00 56.55 L614.25 55.27 L614.50 54.03 L614.75 52.82 L615.00 51.63 L615.25 50.48 L615.50 49.36 L615.75 48.27 L616.00 47.21 L616.25 46.19 L616.50 45.19 L616.75 44.23 L617.00 43.29 L617.25 42.39 L617.50 41.51 L617.75 40.67 L618.00 39.86 L618.25 39.08 L618.50 38.33 L618.75 37.62 L619.00 36.93 L619.25 36.28 L619.50 35.65 L619.75 35.06 L620.00 34.50 L620.25 33.96 L620.50 33.46 L620.75 33.00 L621.00 32.56 L621.25 32.15 L621.50 31.77 L621.75 31.43 L622.00 31.12 L622.25 30.83 L622.50 30.58 L622.75 30.36 L623.00 30.17 L623.25 30.01 L623.50 29.88 L623.75 29.79 L624.00 29.72 L624.25 29.69 L624.50 29.68 L624.75 29.72 L625.00 29.82 L625.25 29.99 L625.50 30.22 L625.75 30.52 L626.00 30.89 L626.25 31.33 L626.50 31.83 L626.75 32.40 L627.00 33.04 L627.25 33.74 L627.50 34.51 L627.75 35.35 L628.00 36.26 L628.25 37.23 L628.50 38.27 L628.75 39.37 L629.00 40.55 L629.25 41.79 L629.50 43.09 L629.75 44.47 L630.00 45.91 L630.25 47.41 L630.50 48.99 L630.75 50.63 L631.00 52.33 L631.25 54.11 L631.50 55.95 L631.75 57.86 L632.00 59.83 L632.25 61.87 L632.50 63.97 L632.75 66.14 L633.00 68.38 L633.25 70.68 L633.50 73.05 L633.75 75.49 L634.00 77.99 L634.25 80.55 L634.50 83.18 L634.75 85.88 L635.00 88.63 L635.25 91.46 L635.50 94.35 L635.75 97.30 L636.00 100.31 L636.25 103.39 L636.50 106.53 L636.75 109.73 L637.00 113.00 L637.25 116.32 L637.50 119.71 L637.75 123.16 L638.00 126.67 L638.25 130.24 L638.50 133.86 L638.75 137.55 L639.00 141.29 L639.25 145.10 L639.50 148.95 L639.75 152.87 L640.00 156.84 L640.25 160.86 L640.50 164.94 L640.75 169.07 L641.00 173.26 L641.25 177.49 L641.50 181.77 L641.75 186.11 L642.00 190.49 L642.25 194.92 L642.50 199.39 L642.75 203.91 L643.00 208.47 L643.25 213.07 L643.50 217.71 L643.75 222.40 L644.00 227.12 L644.25 231.87 L644.50 236.66 L644.75 241.49 L645.00 246.34 L645.25 251.22 L645.50 256.14 L645.75 261.07 L646.00 266.03 L646.25 271.01 L646.50 276.02 L646.75 281.04 L647.00 286.07 L647.25 291.12 L647.50 296.18 L647.75 301.24 L648.00 306.32 L648.25 311.39 L648.50 316.47 L648.75 321.54 L649.00 326.61 L649.25 331.68 L649.50 336.73 L649.75 341.77 L650.00 346.80 L650.25 351.81 L650.50 356.79 L650.75 361.75 L651.00 366.69 L651.25 371.59 L651.50 376.46 L651.75 381.29 L652.00 386.08 L652.25 390.83 L652.50 395.53 L652.75 400.18 L653.00 404.77 L653.25 409.31 L653.50 413.79 L653.75 418.21 L654.00 422.55 L654.25 426.83 L654.50 431.04 L654.75 435.16 L655.00 439.21 L655.25 443.17 L655.50 447.05 L655.75 450.83 L656.00 454.53 L656.25 458.12 L656.50 461.62 L656.75 465.01 L657.00 468.29 L657.25 471.47 L657.50 474.53 L657.75 477.48 L658.00 480.32 L658.25 483.03 L658.50 485.62 L658.75 488.08 L659.00 490.42 L659.25 492.63 L659.50 494.70 L659.75 496.64 L660.00 498.45 L660.25 500.12 L660.50 501.65 L660.75 503.03 L661.00 504.28 L661.25 505.38 L661.50 506.34 L661.75 507.15 L662.00 507.81 L662.25 508.33 L662.50 508.70 L662.75 508.93 L663.00 509.00 L663.25 508.97 L663.50 508.86 L663.75 508.70 L664.00 508.46 L664.25 508.15 L664.50 507.78 L664.75 507.35 L665.00 506.84 L665.25 506.27 L665.50 505.63 L665.75 504.93 L666.00 504.15 L666.25 503.32 L666.50 502.42 L666.75 501.45 L667.00 500.42 L667.25 499.33 L667.50 498.17 L667.75 496.96 L668.00 495.67 L668.25 494.33 L668.50 492.93 L668.75 491.46 L669.00 489.94 L669.25 488.36 L669.50 486.72 L669.75 485.02 L670.00 483.26 L670.25 481.45 L670.50 479.58 L670.75 477.66 L671.00 475.69 L671.25 473.66 L671.50 471.58 L671.75 469.45 L672.00 467.27 L672.25 465.04 L672.50 462.76 L672.75 460.43 L673.00 458.06 L673.25 455.64 L673.50 453.18 L673.75 450.67 L674.00 448.12 L674.25 445.53 L674.50 442.90 L674.75 440.23 L675.00 437.52" fill="none" stroke="#0000ff" stroke-width="6.4" stroke-linejoin="round"/>
<path d="M93.10 491.06L93.22 490.06L93.34 489.07L93.45 488.08L93.56 487.08L93.67 486.09L93.78 485.10L93.89 484.10L93.99 483.11L94.09 482.11L94.19 481.12L94.29 480.12L94.39 479.13L94.48 478.13L94.58 477.14L94.67 476.14L94.76 475.14L94.85 474.15L94.94 473.15L95.03 472.16L95.12 471.16L95.21 470.16L95.29 469.17L95.31 468.97M97.01 446.93L97.08 445.94L97.15 444.94L97.22 443.94L97.29 442.94L97.36 441.95L97.43 440.95L97.50 439.95L97.57 438.95L97.63 437.96L97.70 436.96L97.77 435.96L97.84 434.96L97.90 433.96L97.97 432.97L98.03 431.97L98.10 430.97L98.16 429.97L98.23 428.97L98.29 427.98L98.36 426.98L98.42 425.98L98.49 424.98L98.50 424.78M99.85 402.73L99.91 401.73L99.97 400.73L100.03 399.73L100.09 398.73L100.15 397.73L100.20 396.74L100.26 395.74L100.32 394.74L100.38 393.74L100.44 392.74L100.49 391.74L100.55 390.75L100.61 389.75L100.67 388.75L100.72 387.75L100.78 386.75L100.84 385.75L100.89 384.76L100.95 383.76L101.01 382.76L101.06 381.76L101.12 380.76L101.13 380.56M102.45 356.70L102.51 355.70L102.56 354.70L102.62 353.70L102.67 352.70L102.73 351.71L102.78 350.71L102.83 349.71L102.89 348.71L102.94 347.71L103.00 346.71L103.05 345.71L103.10 344.72L103.16 343.72L103.21 342.72L103.27 341.72L103.32 340.72L103.37 339.72L103.43 338.72L103.48 337.73L103.53 336.73L103.59 335.73L103.64 334.73L103.65 334.53M104.84 312.26L104.89 311.26L104.95 310.27L105.00 309.27L105.05 308.27L105.11 307.27L105.16 306.27L105.21 305.27L105.27 304.27L105.32 303.28L105.37 302.28L105.42 301.28L105.48 300.28L105.53 299.28L105.58 298.28L105.64 297.28L105.69 296.29L105.74 295.29L105.80 294.29L105.85 293.29L105.90 292.29L105.96 291.29L106.01 290.29L106.02 290.09M107.28 266.73L107.33 265.73L107.38 264.73L107.44 263.73L107.49 262.73L107.55 261.74L107.60 260.74L107.65 259.74L107.71 258.74L107.76 257.74L107.82 256.74L107.87 255.74L107.93 254.75L107.98 253.75L108.04 252.75L108.09 251.75L108.15 250.75L108.20 249.75L108.25 248.75L108.31 247.76L108.36 246.76L108.42 245.76L108.47 244.76L108.49 244.56M109.72 222.50L109.78 221.50L109.83 220.50L109.89 219.50L109.95 218.50L110.00 217.50L110.06 216.50L110.12 215.51L110.18 214.51L110.23 213.51L110.29 212.51L110.35 211.51L110.41 210.51L110.47 209.52L110.52 208.52L110.58 207.52L110.64 206.52L110.70 205.52L110.76 204.53L110.81 203.53L110.87 202.53L110.93 201.53L110.99 200.53L111.00 200.33M112.41 177.07L112.47 176.08L112.53 175.08L112.60 174.08L112.66 173.08L112.72 172.08L112.78 171.09L112.85 170.09L112.91 169.09L112.97 168.09L113.04 167.09L113.10 166.10L113.17 165.10L113.23 164.10L113.29 163.10L113.36 162.10L113.42 161.11L113.49 160.11L113.55 159.11L113.62 158.11L113.68 157.12L113.75 156.12L113.81 155.12L113.83 154.92M115.41 131.87L115.48 130.88L115.55 129.88L115.63 128.88L115.70 127.88L115.77 126.89L115.84 125.89L115.92 124.89L115.99 123.90L116.07 122.90L116.14 121.90L116.21 120.90L116.29 119.91L116.36 118.91L116.44 117.91L116.52 116.92L116.59 115.92L116.67 114.92L116.75 113.92L116.82 112.93L116.90 111.93L116.98 110.93L117.06 109.94L117.07 109.74M119.02 86.62L119.11 85.62L119.21 84.63L119.30 83.63L119.39 82.64L119.48 81.64L119.58 80.64L119.67 79.65L119.77 78.65L119.86 77.66L119.96 76.66L120.06 75.67L120.16 74.67L120.26 73.68L120.36 72.68L120.46 71.69L120.56 70.69L120.66 69.70L120.76 68.70L120.87 67.71L120.98 66.71L121.08 65.72L121.19 64.73L121.21 64.53M124.26 40.72L124.41 39.74L124.57 38.75L124.73 37.76L124.90 36.77L125.07 35.79L125.24 34.80L125.42 33.82L125.60 32.84L125.79 31.86L125.98 30.87L126.19 29.90L126.40 28.92L126.62 27.94L126.84 26.97L127.08 26.00L127.34 25.03L127.60 24.07L127.89 23.11L128.20 22.16L128.53 21.21L128.90 20.29L129.33 19.38L129.42 19.20M138.39 31.38L138.62 32.35L138.85 33.32L139.07 34.30L139.28 35.28L139.49 36.25L139.69 37.23L139.89 38.21L140.08 39.20L140.27 40.18L140.45 41.16L140.64 42.14L140.81 43.13L140.99 44.11L141.16 45.10L141.33 46.08L141.50 47.07L141.66 48.06L141.82 49.04L141.98 50.03L142.13 51.02L142.29 52.01L142.44 52.99L142.47 53.19M145.59 76.58L145.71 77.58L145.83 78.57L145.94 79.56L146.06 80.56L146.17 81.55L146.29 82.54L146.40 83.54L146.51 84.53L146.62 85.52L146.73 86.52L146.84 87.51L146.95 88.51L147.06 89.50L147.16 90.50L147.27 91.49L147.38 92.48L147.48 93.48L147.58 94.47L147.69 95.47L147.79 96.46L147.89 97.46L148.00 98.45L148.02 98.65M150.24 121.74L150.33 122.74L150.42 123.74L150.51 124.73L150.60 125.73L150.68 126.72L150.77 127.72L150.86 128.72L150.95 129.71L151.04 130.71L151.12 131.70L151.21 132.70L151.30 133.70L151.38 134.69L151.47 135.69L151.55 136.69L151.64 137.68L151.72 138.68L151.81 139.68L151.89 140.67L151.97 141.67L152.06 142.66L152.14 143.66L152.16 143.86M153.91 165.59L153.98 166.59L154.06 167.58L154.14 168.58L154.22 169.58L154.29 170.58L154.37 171.57L154.45 172.57L154.52 173.57L154.60 174.56L154.67 175.56L154.75 176.56L154.82 177.56L154.90 178.55L154.97 179.55L155.05 180.55L155.12 181.54L155.20 182.54L155.27 183.54L155.35 184.54L155.42 185.53L155.49 186.53L155.57 187.53L155.58 187.73M157.26 211.07L157.33 212.06L157.40 213.06L157.47 214.06L157.54 215.06L157.61 216.05L157.68 217.05L157.75 218.05L157.82 219.05L157.89 220.04L157.96 221.04L158.03 222.04L158.10 223.04L158.17 224.04L158.23 225.03L158.30 226.03L158.37 227.03L158.44 228.03L158.51 229.02L158.58 230.02L158.64 231.02L158.71 232.02L158.78 233.01L158.79 233.21M160.36 256.56L160.43 257.56L160.49 258.56L160.56 259.55L160.63 260.55L160.69 261.55L160.76 262.55L160.82 263.55L160.89 264.54L160.95 265.54L161.02 266.54L161.09 267.54L161.15 268.54L161.22 269.53L161.28 270.53L161.35 271.53L161.41 272.53L161.48 273.52L161.54 274.52L161.61 275.52L161.67 276.52L161.74 277.52L161.80 278.51L161.82 278.71M163.25 300.77L163.31 301.76L163.38 302.76L163.44 303.76L163.51 304.76L163.57 305.76L163.64 306.75L163.70 307.75L163.77 308.75L163.83 309.75L163.90 310.75L163.96 311.74L164.03 312.74L164.09 313.74L164.15 314.74L164.22 315.74L164.28 316.73L164.35 317.73L164.41 318.73L164.48 319.73L164.54 320.73L164.61 321.72L164.67 322.72L164.69 322.92M166.19 345.97L166.25 346.97L166.32 347.97L166.39 348.97L166.45 349.96L166.52 350.96L166.58 351.96L166.65 352.96L166.71 353.95L166.78 354.95L166.85 355.95L166.91 356.95L166.98 357.95L167.05 358.94L167.11 359.94L167.18 360.94L167.25 361.94L167.31 362.93L167.38 363.93L167.45 364.93L167.51 365.93L167.58 366.93L167.65 367.92L167.66 368.12M169.34 392.57L169.41 393.56L169.48 394.56L169.55 395.56L169.62 396.56L169.69 397.55L169.76 398.55L169.83 399.55L169.90 400.55L169.98 401.54L170.05 402.54L170.12 403.54L170.19 404.53L170.26 405.53L170.34 406.53L170.41 407.53L170.48 408.52L170.56 409.52L170.63 410.52L170.70 411.52L170.78 412.51L170.85 413.51L170.92 414.51L170.94 414.71M172.73 437.64L172.81 438.63L172.90 439.63L172.98 440.63L173.06 441.62L173.15 442.62L173.23 443.62L173.31 444.61L173.40 445.61L173.49 446.61L173.57 447.60L173.66 448.60L173.75 449.59L173.83 450.59L173.92 451.59L174.01 452.58L174.10 453.58L174.19 454.57L174.28 455.57L174.38 456.57L174.47 457.56L174.56 458.56L174.66 459.55L174.67 459.75M176.79 479.84L176.91 480.83L177.03 481.83L177.15 482.82L177.28 483.81L177.41 484.80L177.53 485.79L177.67 486.79L177.80 487.78L177.94 488.77L178.08 489.76L178.22 490.75L178.37 491.73L178.52 492.72L178.68 493.71L178.84 494.70L179.01 495.68L179.18 496.67L179.36 497.65L179.54 498.64L179.74 499.62L179.94 500.60L180.16 501.57L180.20 501.77M187.94 493.42L188.08 492.43L188.22 491.44L188.36 490.45L188.49 489.46L188.62 488.46L188.74 487.47L188.86 486.48L188.98 485.49L189.10 484.49L189.22 483.50L189.33 482.51L189.44 481.51L189.55 480.52L189.66 479.53L189.77 478.53L189.87 477.54L189.98 476.54L190.08 475.55L190.18 474.55L190.28 473.56L190.38 472.56L190.48 471.57L190.49 471.37M192.49 448.46L192.57 447.46L192.65 446.46L192.73 445.47L192.81 444.47L192.89 443.47L192.96 442.47L193.04 441.48L193.11 440.48L193.19 439.48L193.27 438.49L193.34 437.49L193.41 436.49L193.49 435.49L193.56 434.50L193.64 433.50L193.71 432.50L193.78 431.50L193.85 430.51L193.93 429.51L194.00 428.51L194.07 427.52L194.14 426.52L194.15 426.32M195.71 403.47L195.78 402.47L195.85 401.48L195.91 400.48L195.98 399.48L196.04 398.48L196.11 397.48L196.17 396.49L196.23 395.49L196.30 394.49L196.36 393.49L196.43 392.49L196.49 391.50L196.55 390.50L196.62 389.50L196.68 388.50L196.74 387.50L196.81 386.51L196.87 385.51L196.93 384.51L197.00 383.51L197.06 382.51L197.12 381.52L197.13 381.32M198.64 356.86L198.70 355.86L198.76 354.87L198.82 353.87L198.88 352.87L198.94 351.87L199.00 350.87L199.06 349.88L199.12 348.88L199.18 347.88L199.24 346.88L199.30 345.88L199.36 344.88L199.42 343.89L199.47 342.89L199.53 341.89L199.59 340.89L199.65 339.89L199.71 338.90L199.77 337.90L199.83 336.90L199.89 335.90L199.95 334.90L199.96 334.70M201.21 313.64L201.26 312.64L201.32 311.64L201.38 310.64L201.44 309.65L201.50 308.65L201.56 307.65L201.62 306.65L201.68 305.65L201.73 304.65L201.79 303.66L201.85 302.66L201.91 301.66L201.97 300.66L202.03 299.66L202.09 298.67L202.15 297.67L202.21 296.67L202.26 295.67L202.32 294.67L202.38 293.67L202.44 292.68L202.50 291.68L202.51 291.48M203.90 268.02L203.96 267.02L204.02 266.02L204.08 265.02L204.14 264.03L204.20 263.03L204.26 262.03L204.32 261.03L204.38 260.03L204.44 259.03L204.50 258.04L204.56 257.04L204.62 256.04L204.68 255.04L204.74 254.04L204.80 253.05L204.86 252.05L204.92 251.05L204.98 250.05L205.04 249.05L205.10 248.05L205.16 247.06L205.22 246.06L205.24 245.86M206.60 223.80L206.66 222.80L206.72 221.80L206.78 220.81L206.85 219.81L206.91 218.81L206.97 217.81L207.03 216.81L207.10 215.82L207.16 214.82L207.22 213.82L207.29 212.82L207.35 211.82L207.41 210.83L207.48 209.83L207.54 208.83L207.61 207.83L207.67 206.83L207.73 205.84L207.80 204.84L207.86 203.84L207.93 202.84L207.99 201.85L208.01 201.65M209.54 178.60L209.60 177.60L209.67 176.60L209.74 175.60L209.81 174.61L209.88 173.61L209.95 172.61L210.01 171.61L210.08 170.62L210.15 169.62L210.22 168.62L210.29 167.62L210.36 166.62L210.43 165.63L210.50 164.63L210.57 163.63L210.64 162.63L210.71 161.64L210.79 160.64L210.86 159.64L210.93 158.64L211.00 157.65L211.07 156.65L211.09 156.45M212.70 134.91L212.77 133.91L212.85 132.92L212.93 131.92L213.01 130.92L213.09 129.93L213.16 128.93L213.24 127.93L213.32 126.94L213.40 125.94L213.48 124.94L213.56 123.94L213.64 122.95L213.72 121.95L213.81 120.95L213.89 119.96L213.97 118.96L214.05 117.96L214.14 116.97L214.22 115.97L214.30 114.98L214.39 113.98L214.47 112.98L214.49 112.78M216.57 89.68L216.67 88.68L216.76 87.69L216.86 86.69L216.96 85.70L217.06 84.70L217.16 83.71L217.26 82.71L217.36 81.72L217.46 80.72L217.56 79.73L217.67 78.73L217.77 77.74L217.87 76.74L217.98 75.75L218.08 74.75L218.19 73.76L218.30 72.77L218.41 71.77L218.52 70.78L218.63 69.78L218.74 68.79L218.85 67.80L218.87 67.60M221.92 44.10L222.07 43.11L222.22 42.12L222.38 41.13L222.54 40.14L222.70 39.16L222.86 38.17L223.03 37.18L223.20 36.20L223.38 35.21L223.55 34.23L223.74 33.25L223.92 32.26L224.12 31.28L224.31 30.30L224.52 29.32L224.73 28.35L224.94 27.37L225.17 26.39L225.40 25.42L225.64 24.45L225.89 23.48L226.15 22.52L226.21 22.33M235.74 22.39L236.00 23.36L236.25 24.33L236.49 25.30L236.72 26.27L236.94 27.25L237.15 28.22L237.36 29.20L237.56 30.18L237.75 31.16L237.94 32.15L238.12 33.13L238.30 34.11L238.48 35.10L238.65 36.08L238.82 37.07L238.98 38.05L239.14 39.04L239.30 40.03L239.45 41.02L239.61 42.01L239.76 42.99L239.90 43.98L239.93 44.18M242.90 67.59L243.01 68.59L243.12 69.58L243.23 70.57L243.34 71.57L243.44 72.56L243.55 73.56L243.65 74.55L243.76 75.55L243.86 76.54L243.96 77.54L244.06 78.53L244.17 79.53L244.27 80.52L244.36 81.52L244.46 82.51L244.56 83.51L244.66 84.50L244.76 85.50L244.85 86.49L244.95 87.49L245.04 88.48L245.14 89.48L245.15 89.68M247.19 112.79L247.28 113.78L247.36 114.78L247.44 115.78L247.52 116.77L247.60 117.77L247.68 118.77L247.76 119.76L247.84 120.76L247.92 121.76L248.00 122.75L248.08 123.75L248.16 124.75L248.24 125.75L248.32 126.74L248.40 127.74L248.47 128.74L248.55 129.73L248.63 130.73L248.70 131.73L248.78 132.72L248.86 133.72L248.93 134.72L248.95 134.92M250.52 156.46L250.59 157.46L250.66 158.46L250.73 159.45L250.80 160.45L250.87 161.45L250.94 162.45L251.01 163.44L251.08 164.44L251.15 165.44L251.22 166.44L251.28 167.43L251.35 168.43L251.42 169.43L251.49 170.43L251.56 171.42L251.62 172.42L251.69 173.42L251.76 174.42L251.83 175.42L251.89 176.41L251.96 177.41L252.03 178.41L252.04 178.61M253.54 201.66L253.60 202.66L253.66 203.66L253.72 204.65L253.79 205.65L253.85 206.65L253.91 207.65L253.98 208.65L254.04 209.64L254.10 210.64L254.16 211.64L254.22 212.64L254.29 213.64L254.35 214.63L254.41 215.63L254.47 216.63L254.53 217.63L254.60 218.63L254.66 219.62L254.72 220.62L254.78 221.62L254.84 222.62L254.90 223.62L254.91 223.82M256.33 247.27L256.39 248.27L256.45 249.27L256.50 250.27L256.56 251.27L256.62 252.27L256.68 253.26L256.74 254.26L256.80 255.26L256.86 256.26L256.92 257.26L256.98 258.26L257.03 259.25L257.09 260.25L257.15 261.25L257.21 262.25L257.27 263.25L257.33 264.25L257.39 265.24L257.44 266.24L257.50 267.24L257.56 268.24L257.62 269.24L257.63 269.44M258.91 291.50L258.97 292.50L259.02 293.50L259.08 294.49L259.14 295.49L259.20 296.49L259.25 297.49L259.31 298.49L259.37 299.49L259.43 300.48L259.48 301.48L259.54 302.48L259.60 303.48L259.66 304.48L259.71 305.48L259.77 306.47L259.83 307.47L259.89 308.47L259.94 309.47L260.00 310.47L260.06 311.47L260.12 312.46L260.17 313.46L260.19 313.66M261.43 335.23L261.49 336.22L261.55 337.22L261.61 338.22L261.66 339.22L261.72 340.22L261.78 341.22L261.84 342.21L261.90 343.21L261.96 344.21L262.01 345.21L262.07 346.21L262.13 347.21L262.19 348.20L262.25 349.20L262.31 350.20L262.36 351.20L262.42 352.20L262.48 353.20L262.54 354.19L262.60 355.19L262.66 356.19L262.72 357.19L262.73 357.39M264.17 381.35L264.23 382.34L264.29 383.34L264.35 384.34L264.41 385.34L264.48 386.34L264.54 387.33L264.60 388.33L264.66 389.33L264.72 390.33L264.79 391.33L264.85 392.32L264.91 393.32L264.97 394.32L265.04 395.32L265.10 396.32L265.16 397.31L265.23 398.31L265.29 399.31L265.35 400.31L265.42 401.31L265.48 402.30L265.54 403.30L265.56 403.50M267.08 426.35L267.15 427.35L267.22 428.35L267.29 429.34L267.36 430.34L267.43 431.34L267.50 432.34L267.58 433.33L267.65 434.33L267.72 435.33L267.79 436.33L267.87 437.32L267.94 438.32L268.01 439.32L268.09 440.32L268.16 441.31L268.23 442.31L268.31 443.31L268.39 444.30L268.46 445.30L268.54 446.30L268.62 447.30L268.69 448.29L268.71 448.49M270.66 471.31L270.75 472.30L270.85 473.30L270.94 474.29L271.04 475.29L271.14 476.28L271.24 477.28L271.35 478.27L271.45 479.27L271.55 480.26L271.66 481.26L271.77 482.25L271.88 483.25L271.99 484.24L272.11 485.23L272.22 486.23L272.34 487.22L272.47 488.21L272.59 489.20L272.72 490.19L272.85 491.19L272.98 492.18L273.12 493.17L273.15 493.37M280.79 502.00L281.01 501.03L281.23 500.05L281.43 499.07L281.62 498.09L281.80 497.11L281.98 496.12L282.15 495.14L282.31 494.15L282.48 493.16L282.63 492.17L282.78 491.19L282.93 490.20L283.07 489.21L283.22 488.22L283.35 487.23L283.49 486.24L283.62 485.25L283.75 484.25L283.88 483.26L284.01 482.27L284.13 481.28L284.25 480.29L284.27 480.09M286.76 456.42L286.86 455.42L286.95 454.43L287.04 453.43L287.13 452.43L287.22 451.44L287.31 450.44L287.40 449.45L287.49 448.45L287.58 447.45L287.66 446.46L287.75 445.46L287.84 444.47L287.92 443.47L288.01 442.47L288.09 441.48L288.18 440.48L288.26 439.48L288.35 438.49L288.43 437.49L288.51 436.49L288.59 435.50L288.68 434.50L288.69 434.30M290.47 411.47L290.55 410.47L290.62 409.48L290.70 408.48L290.77 407.48L290.85 406.49L290.92 405.49L290.99 404.49L291.07 403.49L291.14 402.50L291.21 401.50L291.28 400.50L291.36 399.50L291.43 398.51L291.50 397.51L291.57 396.51L291.64 395.51L291.71 394.52L291.79 393.52L291.86 392.52L291.93 391.52L292.00 390.53L292.07 389.53L292.08 389.33M293.66 366.48L293.73 365.49L293.80 364.49L293.87 363.49L293.93 362.49L294.00 361.50L294.07 360.50L294.14 359.50L294.20 358.50L294.27 357.50L294.34 356.51L294.40 355.51L294.47 354.51L294.54 353.51L294.61 352.52L294.67 351.52L294.74 350.52L294.80 349.52L294.87 348.52L294.94 347.53L295.00 346.53L295.07 345.53L295.14 344.53L295.15 344.33M296.57 322.88L296.63 321.88L296.70 320.89L296.76 319.89L296.83 318.89L296.89 317.89L296.96 316.89L297.02 315.90L297.09 314.90L297.15 313.90L297.22 312.90L297.28 311.90L297.35 310.91L297.42 309.91L297.48 308.91L297.55 307.91L297.61 306.92L297.68 305.92L297.74 304.92L297.81 303.92L297.87 302.92L297.94 301.93L298.00 300.93L298.02 300.73M299.46 278.68L299.53 277.68L299.60 276.68L299.66 275.68L299.73 274.68L299.79 273.69L299.86 272.69L299.93 271.69L299.99 270.69L300.06 269.70L300.12 268.70L300.19 267.70L300.26 266.70L300.32 265.70L300.39 264.71L300.46 263.71L300.52 262.71L300.59 261.71L300.66 260.72L300.72 259.72L300.79 258.72L300.86 257.72L300.92 256.72L300.94 256.52M302.52 233.18L302.59 232.18L302.66 231.18L302.72 230.19L302.79 229.19L302.86 228.19L302.93 227.19L303.00 226.19L303.07 225.20L303.14 224.20L303.21 223.20L303.28 222.20L303.35 221.21L303.42 220.21L303.49 219.21L303.56 218.21L303.63 217.22L303.70 216.22L303.77 215.22L303.84 214.22L303.91 213.23L303.98 212.23L304.05 211.23L304.06 211.03M305.76 187.69L305.83 186.70L305.91 185.70L305.98 184.70L306.05 183.70L306.13 182.71L306.20 181.71L306.28 180.71L306.35 179.72L306.43 178.72L306.51 177.72L306.58 176.72L306.66 175.73L306.73 174.73L306.81 173.73L306.89 172.74L306.96 171.74L307.04 170.74L307.12 169.74L307.20 168.75L307.27 167.75L307.35 166.75L307.43 165.76L307.44 165.56M309.20 143.83L309.29 142.83L309.37 141.84L309.45 140.84L309.54 139.84L309.62 138.85L309.71 137.85L309.79 136.85L309.88 135.86L309.97 134.86L310.05 133.86L310.14 132.87L310.23 131.87L310.31 130.88L310.40 129.88L310.49 128.88L310.58 127.89L310.67 126.89L310.75 125.90L310.84 124.90L310.93 123.90L311.02 122.91L311.11 121.91L311.13 121.71M313.35 98.62L313.46 97.62L313.56 96.63L313.66 95.64L313.76 94.64L313.87 93.65L313.97 92.65L314.08 91.66L314.18 90.66L314.29 89.67L314.40 88.67L314.51 87.68L314.62 86.69L314.73 85.69L314.84 84.70L314.95 83.70L315.06 82.71L315.17 81.72L315.28 80.72L315.40 79.73L315.51 78.74L315.63 77.74L315.75 76.75L315.77 76.55M318.85 53.15L319.00 52.17L319.15 51.18L319.31 50.19L319.46 49.20L319.62 48.21L319.78 47.23L319.94 46.24L320.10 45.25L320.27 44.27L320.44 43.28L320.61 42.30L320.78 41.31L320.96 40.33L321.14 39.34L321.33 38.36L321.52 37.38L321.71 36.40L321.91 35.42L322.11 34.44L322.31 33.46L322.53 32.48L322.74 31.51L322.79 31.31M331.52 15.54L332.08 16.36L332.54 17.25L332.94 18.17L333.28 19.11L333.60 20.06L333.89 21.02L334.16 21.98L334.42 22.94L334.66 23.92L334.89 24.89L335.10 25.86L335.31 26.84L335.52 27.82L335.71 28.80L335.90 29.78L336.08 30.77L336.26 31.75L336.43 32.74L336.60 33.72L336.76 34.71L336.92 35.70L337.07 36.68L337.10 36.88M340.06 59.99L340.17 60.99L340.28 61.98L340.38 62.98L340.49 63.97L340.59 64.96L340.69 65.96L340.79 66.95L340.89 67.95L340.99 68.94L341.09 69.94L341.19 70.93L341.29 71.93L341.38 72.92L341.48 73.92L341.57 74.92L341.67 75.91L341.76 76.91L341.85 77.90L341.94 78.90L342.03 79.89L342.12 80.89L342.21 81.89L342.23 82.09M344.16 105.21L344.24 106.20L344.31 107.20L344.39 108.20L344.47 109.19L344.54 110.19L344.62 111.19L344.69 112.18L344.77 113.18L344.84 114.18L344.91 115.18L344.99 116.17L345.06 117.17L345.14 118.17L345.21 119.17L345.28 120.16L345.35 121.16L345.42 122.16L345.50 123.16L345.57 124.15L345.64 125.15L345.71 126.15L345.78 127.15L345.79 127.34M347.35 150.49L347.42 151.49L347.48 152.49L347.55 153.49L347.61 154.48L347.68 155.48L347.74 156.48L347.80 157.48L347.87 158.48L347.93 159.47L347.99 160.47L348.05 161.47L348.12 162.47L348.18 163.47L348.24 164.46L348.30 165.46L348.36 166.46L348.43 167.46L348.49 168.46L348.55 169.45L348.61 170.45L348.67 171.45L348.73 172.45L348.74 172.65M349.99 193.61L350.05 194.61L350.10 195.61L350.16 196.61L350.22 197.61L350.28 198.60L350.33 199.60L350.39 200.60L350.45 201.60L350.51 202.60L350.56 203.60L350.62 204.59L350.68 205.59L350.73 206.59L350.79 207.59L350.85 208.59L350.90 209.59L350.96 210.58L351.01 211.58L351.07 212.58L351.13 213.58L351.18 214.58L351.24 215.58L351.25 215.78M352.53 239.14L352.58 240.14L352.64 241.14L352.69 242.14L352.74 243.14L352.80 244.13L352.85 245.13L352.90 246.13L352.96 247.13L353.01 248.13L353.06 249.13L353.12 250.13L353.17 251.12L353.22 252.12L353.28 253.12L353.33 254.12L353.38 255.12L353.44 256.12L353.49 257.12L353.54 258.11L353.59 259.11L353.65 260.11L353.70 261.11L353.71 261.31M354.94 284.78L354.99 285.78L355.04 286.77L355.09 287.77L355.15 288.77L355.20 289.77L355.25 290.77L355.30 291.77L355.35 292.77L355.41 293.77L355.46 294.76L355.51 295.76L355.56 296.76L355.61 297.76L355.66 298.76L355.72 299.76L355.77 300.76L355.82 301.75L355.87 302.75L355.92 303.75L355.98 304.75L356.03 305.75L356.08 306.75L356.09 306.95M357.24 329.22L357.30 330.22L357.35 331.21L357.40 332.21L357.45 333.21L357.50 334.21L357.56 335.21L357.61 336.21L357.66 337.21L357.71 338.21L357.77 339.20L357.82 340.20L357.87 341.20L357.92 342.20L357.97 343.20L358.03 344.20L358.08 345.20L358.13 346.19L358.18 347.19L358.24 348.19L358.29 349.19L358.34 350.19L358.40 351.19L358.41 351.39M359.64 374.45L359.70 375.45L359.75 376.45L359.80 377.45L359.86 378.45L359.91 379.45L359.97 380.45L360.02 381.44L360.08 382.44L360.13 383.44L360.19 384.44L360.24 385.44L360.30 386.44L360.36 387.43L360.41 388.43L360.47 389.43L360.52 390.43L360.58 391.43L360.63 392.43L360.69 393.43L360.75 394.42L360.80 395.42L360.86 396.42L360.87 396.62M362.21 419.38L362.27 420.38L362.33 421.38L362.39 422.38L362.45 423.37L362.51 424.37L362.58 425.37L362.64 426.37L362.70 427.37L362.76 428.36L362.83 429.36L362.89 430.36L362.95 431.36L363.02 432.36L363.08 433.35L363.15 434.35L363.21 435.35L363.28 436.35L363.34 437.34L363.41 438.34L363.47 439.34L363.54 440.34L363.61 441.34L363.62 441.54M365.23 463.78L365.31 464.77L365.39 465.77L365.47 466.77L365.55 467.76L365.63 468.76L365.72 469.76L365.80 470.75L365.89 471.75L365.97 472.75L366.06 473.74L366.15 474.74L366.24 475.74L366.33 476.73L366.42 477.73L366.51 478.72L366.60 479.72L366.70 480.71L366.80 481.71L366.90 482.70L367.00 483.70L367.10 484.69L367.20 485.69L367.22 485.89M371.85 508.96L372.76 508.66L373.37 507.88L373.84 506.99L374.23 506.07L374.56 505.13L374.86 504.17L375.13 503.21L375.39 502.24L375.62 501.27L375.85 500.30L376.06 499.32L376.26 498.34L376.46 497.36L376.65 496.38L376.83 495.40L377.00 494.41L377.17 493.43L377.33 492.44L377.49 491.45L377.65 490.46L377.80 489.48L377.95 488.49L377.98 488.29M380.76 465.76L380.86 464.77L380.97 463.77L381.07 462.78L381.17 461.78L381.27 460.79L381.37 459.79L381.47 458.80L381.57 457.80L381.67 456.81L381.77 455.81L381.87 454.82L381.96 453.82L382.06 452.83L382.15 451.83L382.25 450.84L382.34 449.84L382.43 448.84L382.53 447.85L382.62 446.85L382.71 445.86L382.80 444.86L382.89 443.87L382.91 443.67M384.84 421.05L384.92 420.05L385.00 419.06L385.08 418.06L385.16 417.06L385.24 416.06L385.32 415.07L385.40 414.07L385.48 413.07L385.56 412.08L385.63 411.08L385.71 410.08L385.79 409.09L385.87 408.09L385.95 407.09L386.02 406.10L386.10 405.10L386.18 404.10L386.25 403.10L386.33 402.11L386.41 401.11L386.48 400.11L386.56 399.12L386.57 398.92M388.26 376.08L388.34 375.08L388.41 374.08L388.48 373.09L388.55 372.09L388.62 371.09L388.69 370.09L388.77 369.10L388.84 368.10L388.91 367.10L388.98 366.10L389.05 365.11L389.12 364.11L389.19 363.11L389.26 362.11L389.33 361.12L389.40 360.12L389.48 359.12L389.55 358.12L389.62 357.13L389.69 356.13L389.76 355.13L389.83 354.13L389.84 353.93M391.44 330.99L391.51 329.99L391.58 329.00L391.65 328.00L391.72 327.00L391.79 326.00L391.85 325.00L391.92 324.01L391.99 323.01L392.06 322.01L392.13 321.01L392.20 320.02L392.27 319.02L392.34 318.02L392.41 317.02L392.47 316.03L392.54 315.03L392.61 314.03L392.68 313.03L392.75 312.04L392.82 311.04L392.89 310.04L392.95 309.04L392.97 308.84M394.49 286.80L394.56 285.80L394.63 284.80L394.70 283.80L394.77 282.81L394.83 281.81L394.90 280.81L394.97 279.81L395.04 278.81L395.11 277.82L395.18 276.82L395.25 275.82L395.32 274.82L395.39 273.83L395.46 272.83L395.53 271.83L395.60 270.83L395.67 269.84L395.74 268.84L395.81 267.84L395.88 266.84L395.95 265.85L396.02 264.85L396.03 264.65M397.69 241.21L397.76 240.21L397.83 239.21L397.91 238.22L397.98 237.22L398.05 236.22L398.12 235.22L398.19 234.23L398.27 233.23L398.34 232.23L398.41 231.23L398.48 230.24L398.56 229.24L398.63 228.24L398.70 227.24L398.77 226.25L398.85 225.25L398.92 224.25L398.99 223.26L399.07 222.26L399.14 221.26L399.21 220.26L399.29 219.27L399.30 219.07M400.99 196.73L401.06 195.73L401.14 194.74L401.22 193.74L401.29 192.74L401.37 191.74L401.45 190.75L401.53 189.75L401.61 188.75L401.68 187.76L401.76 186.76L401.84 185.76L401.92 184.77L402.00 183.77L402.08 182.77L402.16 181.78L402.24 180.78L402.32 179.78L402.40 178.79L402.48 177.79L402.56 176.79L402.64 175.79L402.72 174.80L402.73 174.60M404.67 151.48L404.75 150.48L404.84 149.49L404.93 148.49L405.02 147.49L405.10 146.50L405.19 145.50L405.28 144.51L405.37 143.51L405.46 142.51L405.55 141.52L405.63 140.52L405.72 139.53L405.81 138.53L405.90 137.53L406.00 136.54L406.09 135.54L406.18 134.55L406.27 133.55L406.36 132.56L406.45 131.56L406.55 130.56L406.64 129.57L406.66 129.37M408.80 107.67L408.90 106.68L409.00 105.69L409.11 104.69L409.21 103.70L409.32 102.70L409.43 101.71L409.53 100.71L409.64 99.72L409.75 98.72L409.86 97.73L409.97 96.74L410.08 95.74L410.19 94.75L410.30 93.76L410.41 92.76L410.52 91.77L410.64 90.77L410.75 89.78L410.87 88.79L410.98 87.79L411.10 86.80L411.22 85.81L411.24 85.61M414.31 62.21L414.45 61.22L414.60 60.23L414.75 59.24L414.90 58.25L415.05 57.27L415.21 56.28L415.36 55.29L415.52 54.30L415.68 53.32L415.85 52.33L416.01 51.34L416.18 50.36L416.35 49.37L416.52 48.39L416.70 47.40L416.87 46.42L417.06 45.43L417.24 44.45L417.43 43.47L417.62 42.49L417.81 41.51L418.01 40.53L418.05 40.33M425.25 19.21L426.03 18.59L426.97 18.27L427.90 18.56L428.56 19.31L429.07 20.17L429.49 21.07L429.85 22.01L430.17 22.95L430.47 23.91L430.74 24.87L431.00 25.84L431.24 26.81L431.46 27.78L431.68 28.76L431.89 29.74L432.09 30.72L432.28 31.70L432.47 32.68L432.64 33.66L432.82 34.65L432.99 35.63L433.15 36.62L433.18 36.82M436.21 59.92L436.32 60.91L436.43 61.91L436.53 62.90L436.64 63.89L436.74 64.89L436.84 65.88L436.94 66.88L437.04 67.87L437.14 68.87L437.24 69.86L437.34 70.86L437.44 71.85L437.53 72.85L437.63 73.85L437.72 74.84L437.81 75.84L437.91 76.83L438.00 77.83L438.09 78.82L438.18 79.82L438.27 80.82L438.36 81.81L438.38 82.01M440.29 105.23L440.36 106.23L440.44 107.23L440.51 108.22L440.59 109.22L440.66 110.22L440.74 111.22L440.81 112.21L440.88 113.21L440.96 114.21L441.03 115.20L441.10 116.20L441.18 117.20L441.25 118.20L441.32 119.19L441.39 120.19L441.46 121.19L441.53 122.19L441.60 123.18L441.67 124.18L441.74 125.18L441.81 126.18L441.88 127.17L441.89 127.37M443.41 150.42L443.48 151.42L443.54 152.42L443.60 153.42L443.66 154.42L443.73 155.41L443.79 156.41L443.85 157.41L443.91 158.41L443.97 159.41L444.04 160.40L444.10 161.40L444.16 162.40L444.22 163.40L444.28 164.40L444.34 165.40L444.40 166.39L444.46 167.39L444.52 168.39L444.58 169.39L444.64 170.39L444.70 171.38L444.76 172.38L444.77 172.58M446.06 194.95L446.12 195.94L446.17 196.94L446.23 197.94L446.29 198.94L446.34 199.94L446.40 200.94L446.45 201.93L446.51 202.93L446.56 203.93L446.62 204.93L446.67 205.93L446.73 206.93L446.78 207.93L446.84 208.92L446.89 209.92L446.95 210.92L447.00 211.92L447.06 212.92L447.11 213.92L447.17 214.91L447.22 215.91L447.27 216.91L447.29 217.11M448.46 239.18L448.51 240.18L448.56 241.18L448.62 242.18L448.67 243.17L448.72 244.17L448.77 245.17L448.82 246.17L448.88 247.17L448.93 248.17L448.98 249.17L449.03 250.17L449.08 251.16L449.13 252.16L449.19 253.16L449.24 254.16L449.29 255.16L449.34 256.16L449.39 257.16L449.44 258.15L449.49 259.15L449.55 260.15L449.60 261.15L449.61 261.35M450.79 284.72L450.84 285.72L450.90 286.72L450.95 287.72L451.00 288.72L451.05 289.71L451.10 290.71L451.15 291.71L451.20 292.71L451.25 293.71L451.30 294.71L451.35 295.71L451.40 296.71L451.45 297.70L451.50 298.70L451.55 299.70L451.60 300.70L451.65 301.70L451.70 302.70L451.75 303.70L451.80 304.70L451.85 305.69L451.90 306.69L451.91 306.89M453.02 328.96L453.07 329.96L453.12 330.96L453.17 331.96L453.22 332.96L453.27 333.96L453.32 334.96L453.37 335.96L453.42 336.95L453.47 337.95L453.52 338.95L453.57 339.95L453.63 340.95L453.68 341.95L453.73 342.95L453.78 343.95L453.83 344.94L453.88 345.94L453.93 346.94L453.98 347.94L454.03 348.94L454.08 349.94L454.13 350.94L454.14 351.14M455.35 374.40L455.40 375.40L455.46 376.40L455.51 377.40L455.56 378.40L455.61 379.40L455.67 380.40L455.72 381.40L455.77 382.39L455.83 383.39L455.88 384.39L455.93 385.39L455.99 386.39L456.04 387.39L456.10 388.39L456.15 389.38L456.20 390.38L456.26 391.38L456.31 392.38L456.37 393.38L456.42 394.38L456.48 395.37L456.53 396.37L456.54 396.57M457.83 419.34L457.89 420.33L457.95 421.33L458.01 422.33L458.07 423.33L458.13 424.33L458.19 425.33L458.25 426.32L458.31 427.32L458.37 428.32L458.43 429.32L458.49 430.32L458.56 431.31L458.62 432.31L458.68 433.31L458.74 434.31L458.80 435.31L458.87 436.30L458.93 437.30L458.99 438.30L459.06 439.30L459.12 440.30L459.19 441.29L459.20 441.49M460.82 464.54L460.89 465.53L460.97 466.53L461.05 467.53L461.13 468.53L461.21 469.52L461.29 470.52L461.37 471.52L461.46 472.51L461.54 473.51L461.62 474.50L461.71 475.50L461.80 476.50L461.89 477.49L461.97 478.49L462.07 479.49L462.16 480.48L462.25 481.48L462.35 482.47L462.44 483.47L462.54 484.46L462.64 485.46L462.74 486.45L462.76 486.65M467.36 508.99L468.21 508.51L468.80 507.70L469.25 506.81L469.62 505.89L469.96 504.94L470.26 503.99L470.53 503.03L470.78 502.06L471.02 501.09L471.25 500.11L471.46 499.14L471.66 498.16L471.86 497.18L472.05 496.20L472.23 495.21L472.40 494.23L472.57 493.24L472.74 492.26L472.90 491.27L473.06 490.28L473.21 489.29L473.36 488.30L473.39 488.11M476.24 465.19L476.35 464.19L476.46 463.20L476.56 462.20L476.66 461.21L476.77 460.21L476.87 459.22L476.97 458.22L477.07 457.23L477.17 456.23L477.27 455.24L477.37 454.24L477.46 453.25L477.56 452.25L477.66 451.26L477.75 450.26L477.85 449.27L477.94 448.27L478.03 447.27L478.13 446.28L478.22 445.28L478.31 444.29L478.40 443.29L478.42 443.09M480.41 420.08L480.49 419.08L480.57 418.08L480.65 417.09L480.74 416.09L480.82 415.09L480.90 414.10L480.98 413.10L481.06 412.10L481.14 411.11L481.22 410.11L481.29 409.11L481.37 408.12L481.45 407.12L481.53 406.12L481.61 405.13L481.69 404.13L481.77 403.13L481.84 402.14L481.92 401.14L482.00 400.14L482.07 399.14L482.15 398.15L482.17 397.95M483.88 375.11L483.96 374.12L484.03 373.12L484.10 372.12L484.18 371.12L484.25 370.13L484.32 369.13L484.39 368.13L484.47 367.13L484.54 366.14L484.61 365.14L484.68 364.14L484.76 363.14L484.83 362.15L484.90 361.15L484.97 360.15L485.04 359.15L485.12 358.16L485.19 357.16L485.26 356.16L485.33 355.16L485.40 354.17L485.47 353.17L485.49 352.97M487.05 331.03L487.12 330.03L487.19 329.03L487.26 328.03L487.33 327.04L487.40 326.04L487.47 325.04L487.54 324.04L487.61 323.05L487.68 322.05L487.75 321.05L487.82 320.05L487.89 319.06L487.96 318.06L488.03 317.06L488.10 316.06L488.17 315.07L488.24 314.07L488.31 313.07L488.38 312.07L488.45 311.08L488.52 310.08L488.59 309.08L488.60 308.88M490.16 286.84L490.23 285.84L490.30 284.84L490.37 283.84L490.44 282.85L490.51 281.85L490.58 280.85L490.65 279.85L490.72 278.86L490.79 277.86L490.86 276.86L490.93 275.86L491.01 274.87L491.08 273.87L491.15 272.87L491.22 271.87L491.29 270.88L491.36 269.88L491.43 268.88L491.50 267.88L491.57 266.89L491.65 265.89L491.72 264.89L491.73 264.69M493.44 241.15L493.51 240.16L493.59 239.16L493.66 238.16L493.73 237.16L493.81 236.17L493.88 235.17L493.95 234.17L494.03 233.17L494.10 232.18L494.18 231.18L494.25 230.18L494.33 229.19L494.40 228.19L494.47 227.19L494.55 226.19L494.62 225.20L494.70 224.20L494.77 223.20L494.85 222.21L494.92 221.21L495.00 220.21L495.08 219.21L495.09 219.01M496.82 196.68L496.90 195.68L496.98 194.69L497.06 193.69L497.14 192.69L497.22 191.70L497.30 190.70L497.38 189.70L497.46 188.71L497.54 187.71L497.62 186.71L497.70 185.72L497.78 184.72L497.86 183.72L497.95 182.73L498.03 181.73L498.11 180.73L498.19 179.74L498.27 178.74L498.36 177.74L498.44 176.75L498.52 175.75L498.60 174.75L498.62 174.55M500.62 151.44L500.71 150.44L500.80 149.45L500.89 148.45L500.98 147.46L501.07 146.46L501.16 145.47L501.25 144.47L501.35 143.47L501.44 142.48L501.53 141.48L501.62 140.49L501.72 139.49L501.81 138.50L501.90 137.50L502.00 136.50L502.09 135.51L502.19 134.51L502.28 133.52L502.38 132.52L502.47 131.53L502.57 130.53L502.67 129.54L502.69 129.34M505.08 106.16L505.19 105.17L505.30 104.17L505.41 103.18L505.52 102.19L505.64 101.19L505.75 100.20L505.86 99.20L505.98 98.21L506.09 97.22L506.21 96.22L506.32 95.23L506.44 94.24L506.56 93.24L506.68 92.25L506.80 91.26L506.92 90.27L507.04 89.27L507.16 88.28L507.28 87.29L507.41 86.30L507.53 85.30L507.66 84.31L507.68 84.11M511.04 60.65L511.20 59.67L511.37 58.68L511.53 57.69L511.70 56.71L511.87 55.72L512.05 54.74L512.22 53.75L512.40 52.77L512.59 51.79L512.77 50.81L512.96 49.82L513.15 48.84L513.35 47.86L513.55 46.88L513.75 45.90L513.96 44.92L514.18 43.95L514.39 42.97L514.62 42.00L514.85 41.02L515.08 40.05L515.33 39.08L515.38 38.89M526.24 29.87L526.51 30.83L526.76 31.80L527.00 32.77L527.23 33.74L527.44 34.72L527.65 35.70L527.84 36.68L528.03 37.66L528.22 38.64L528.39 39.63L528.57 40.61L528.73 41.60L528.90 42.58L529.05 43.57L529.21 44.56L529.36 45.55L529.51 46.54L529.65 47.53L529.79 48.52L529.93 49.51L530.07 50.50L530.20 51.49L530.23 51.69M532.86 75.04L532.96 76.03L533.05 77.03L533.15 78.02L533.24 79.02L533.34 80.01L533.43 81.01L533.52 82.01L533.61 83.00L533.71 84.00L533.80 84.99L533.88 85.99L533.97 86.99L534.06 87.98L534.15 88.98L534.23 89.97L534.32 90.97L534.41 91.97L534.49 92.96L534.57 93.96L534.66 94.96L534.74 95.95L534.82 96.95L534.84 97.15M536.62 120.28L536.69 121.28L536.76 122.27L536.83 123.27L536.91 124.27L536.98 125.27L537.05 126.26L537.12 127.26L537.19 128.26L537.26 129.26L537.32 130.26L537.39 131.25L537.46 132.25L537.53 133.25L537.60 134.25L537.67 135.24L537.73 136.24L537.80 137.24L537.87 138.24L537.93 139.23L538.00 140.23L538.07 141.23L538.13 142.23L538.14 142.43M539.52 164.08L539.58 165.08L539.64 166.08L539.70 167.08L539.76 168.08L539.82 169.08L539.88 170.07L539.94 171.07L540.00 172.07L540.06 173.07L540.12 174.07L540.18 175.06L540.24 176.06L540.30 177.06L540.35 178.06L540.41 179.06L540.47 180.06L540.53 181.05L540.59 182.05L540.65 183.05L540.70 184.05L540.76 185.05L540.82 186.05L540.83 186.25M542.07 208.31L542.13 209.31L542.18 210.31L542.24 211.31L542.29 212.30L542.34 213.30L542.40 214.30L542.45 215.30L542.51 216.30L542.56 217.30L542.61 218.30L542.67 219.29L542.72 220.29L542.78 221.29L542.83 222.29L542.88 223.29L542.94 224.29L542.99 225.29L543.04 226.28L543.10 227.28L543.15 228.28L543.20 229.28L543.26 230.28L543.27 230.48M544.49 253.95L544.54 254.95L544.59 255.94L544.64 256.94L544.69 257.94L544.75 258.94L544.80 259.94L544.85 260.94L544.90 261.94L544.95 262.93L545.00 263.93L545.05 264.93L545.10 265.93L545.15 266.93L545.20 267.93L545.25 268.93L545.31 269.93L545.36 270.92L545.41 271.92L545.46 272.92L545.51 273.92L545.56 274.92L545.61 275.92L545.62 276.12M546.73 298.19L546.78 299.19L546.83 300.19L546.88 301.19L546.93 302.18L546.98 303.18L547.03 304.18L547.08 305.18L547.13 306.18L547.18 307.18L547.23 308.18L547.28 309.18L547.33 310.17L547.38 311.17L547.43 312.17L547.47 313.17L547.52 314.17L547.57 315.17L547.62 316.17L547.67 317.17L547.72 318.16L547.77 319.16L547.82 320.16L547.83 320.36M548.96 342.73L549.01 343.73L549.06 344.73L549.11 345.73L549.16 346.73L549.21 347.73L549.26 348.73L549.31 349.73L549.36 350.72L549.41 351.72L549.46 352.72L549.51 353.72L549.56 354.72L549.61 355.72L549.67 356.72L549.72 357.71L549.77 358.71L549.82 359.71L549.87 360.71L549.92 361.71L549.97 362.71L550.02 363.71L550.08 364.71L550.09 364.91M551.28 387.67L551.33 388.67L551.39 389.67L551.44 390.67L551.49 391.67L551.55 392.67L551.60 393.67L551.66 394.66L551.71 395.66L551.76 396.66L551.82 397.66L551.87 398.66L551.93 399.66L551.98 400.66L552.04 401.65L552.09 402.65L552.15 403.65L552.20 404.65L552.26 405.65L552.31 406.65L552.37 407.64L552.43 408.64L552.48 409.64L552.49 409.84M553.83 432.60L553.89 433.60L553.96 434.60L554.02 435.60L554.08 436.59L554.14 437.59L554.21 438.59L554.27 439.59L554.33 440.59L554.40 441.58L554.46 442.58L554.53 443.58L554.59 444.58L554.66 445.58L554.72 446.57L554.79 447.57L554.86 448.57L554.92 449.57L554.99 450.56L555.06 451.56L555.13 452.56L555.20 453.56L555.27 454.55L555.28 454.75M557.09 477.98L557.18 478.98L557.27 479.98L557.36 480.97L557.46 481.97L557.55 482.96L557.65 483.96L557.74 484.95L557.85 485.95L557.95 486.94L558.05 487.94L558.16 488.93L558.27 489.93L558.38 490.92L558.49 491.91L558.61 492.91L558.73 493.90L558.86 494.89L558.98 495.88L559.12 496.87L559.26 497.86L559.40 498.85L559.55 499.84L559.58 500.04M567.17 496.73L567.36 495.75L567.54 494.77L567.72 493.78L567.90 492.80L568.06 491.81L568.23 490.83L568.39 489.84L568.54 488.85L568.70 487.86L568.85 486.88L568.99 485.89L569.14 484.90L569.28 483.91L569.41 482.92L569.55 481.93L569.69 480.93L569.82 479.94L569.95 478.95L570.08 477.96L570.20 476.97L570.33 475.98L570.45 474.98L570.47 474.79M573.01 451.62L573.10 450.63L573.20 449.63L573.30 448.64L573.40 447.64L573.49 446.65L573.59 445.65L573.68 444.66L573.78 443.66L573.87 442.67L573.96 441.67L574.05 440.67L574.15 439.68L574.24 438.68L574.33 437.69L574.42 436.69L574.51 435.69L574.60 434.70L574.69 433.70L574.78 432.71L574.87 431.71L574.96 430.71L575.04 429.72L575.06 429.52M576.89 407.80L576.97 406.80L577.05 405.80L577.14 404.81L577.22 403.81L577.30 402.81L577.38 401.82L577.46 400.82L577.53 399.82L577.61 398.83L577.69 397.83L577.77 396.83L577.85 395.83L577.93 394.84L578.01 393.84L578.09 392.84L578.16 391.85L578.24 390.85L578.32 389.85L578.40 388.86L578.47 387.86L578.55 386.86L578.63 385.86L578.64 385.67M580.37 362.83L580.45 361.83L580.52 360.84L580.60 359.84L580.67 358.84L580.74 357.84L580.82 356.85L580.89 355.85L580.97 354.85L581.04 353.86L581.11 352.86L581.19 351.86L581.26 350.86L581.33 349.87L581.41 348.87L581.48 347.87L581.55 346.87L581.63 345.88L581.70 344.88L581.77 343.88L581.85 342.89L581.92 341.89L581.99 340.89L582.01 340.69M583.69 317.55L583.76 316.55L583.84 315.56L583.91 314.56L583.98 313.56L584.05 312.57L584.13 311.57L584.20 310.57L584.27 309.57L584.34 308.58L584.42 307.58L584.49 306.58L584.56 305.58L584.63 304.59L584.71 303.59L584.78 302.59L584.85 301.59L584.92 300.60L584.99 299.60L585.07 298.60L585.14 297.60L585.21 296.61L585.29 295.61L585.30 295.41M586.91 273.37L586.99 272.37L587.06 271.37L587.13 270.38L587.21 269.38L587.28 268.38L587.35 267.39L587.43 266.39L587.50 265.39L587.58 264.39L587.65 263.40L587.72 262.40L587.80 261.40L587.87 260.41L587.95 259.41L588.02 258.41L588.10 257.41L588.17 256.42L588.24 255.42L588.32 254.42L588.39 253.42L588.47 252.43L588.54 251.43L588.56 251.23M590.35 227.80L590.42 226.80L590.50 225.80L590.58 224.81L590.66 223.81L590.74 222.81L590.81 221.82L590.89 220.82L590.97 219.82L591.05 218.83L591.13 217.83L591.21 216.83L591.29 215.84L591.36 214.84L591.44 213.84L591.52 212.85L591.60 211.85L591.68 210.85L591.76 209.85L591.84 208.86L591.92 207.86L592.00 206.86L592.08 205.87L592.10 205.67M593.97 183.05L594.06 182.05L594.14 181.05L594.23 180.06L594.32 179.06L594.40 178.06L594.49 177.07L594.57 176.07L594.66 175.08L594.75 174.08L594.83 173.08L594.92 172.09L595.01 171.09L595.10 170.09L595.18 169.10L595.27 168.10L595.36 167.11L595.45 166.11L595.54 165.11L595.63 164.12L595.72 163.12L595.81 162.13L595.90 161.13L595.92 160.93M598.10 137.83L598.20 136.84L598.30 135.84L598.40 134.85L598.50 133.85L598.60 132.86L598.70 131.86L598.80 130.87L598.90 129.87L599.01 128.88L599.11 127.88L599.21 126.89L599.32 125.90L599.42 124.90L599.52 123.91L599.63 122.91L599.73 121.92L599.84 120.92L599.95 119.93L600.05 118.93L600.16 117.94L600.27 116.95L600.38 115.95L600.40 115.75M603.14 92.52L603.27 91.52L603.40 90.53L603.53 89.54L603.66 88.55L603.79 87.56L603.92 86.57L604.05 85.57L604.19 84.58L604.32 83.59L604.46 82.60L604.60 81.61L604.74 80.62L604.88 79.63L605.02 78.64L605.16 77.65L605.31 76.66L605.45 75.67L605.60 74.68L605.75 73.70L605.90 72.71L606.05 71.72L606.21 70.73L606.24 70.53M610.26 48.91L610.48 47.93L610.71 46.96L610.95 45.99L611.19 45.02L611.44 44.05L611.70 43.08L611.96 42.12L612.24 41.16L612.52 40.20L612.82 39.24L613.13 38.29L613.45 37.35L613.79 36.41L614.16 35.47L614.54 34.55L614.96 33.64L615.41 32.75L615.90 31.88L616.46 31.05L617.10 30.29L617.86 29.64L618.77 29.24L618.97 29.20M625.78 52.43L625.91 53.42L626.05 54.41L626.18 55.40L626.31 56.39L626.44 57.38L626.56 58.38L626.68 59.37L626.80 60.36L626.92 61.35L627.04 62.35L627.15 63.34L627.27 64.33L627.38 65.33L627.49 66.32L627.60 67.32L627.71 68.31L627.81 69.30L627.92 70.30L628.02 71.29L628.13 72.29L628.23 73.28L628.33 74.28L628.35 74.48M630.44 97.68L630.52 98.68L630.60 99.68L630.68 100.67L630.76 101.67L630.84 102.67L630.92 103.66L631.00 104.66L631.08 105.66L631.15 106.65L631.23 107.65L631.31 108.65L631.38 109.64L631.46 110.64L631.53 111.64L631.61 112.64L631.68 113.63L631.76 114.63L631.83 115.63L631.90 116.63L631.98 117.62L632.05 118.62L632.12 119.62L632.13 119.82M633.71 142.96L633.77 143.96L633.84 144.96L633.90 145.96L633.96 146.96L634.03 147.95L634.09 148.95L634.15 149.95L634.21 150.95L634.28 151.95L634.34 152.94L634.40 153.94L634.46 154.94L634.53 155.94L634.59 156.94L634.65 157.93L634.71 158.93L634.77 159.93L634.83 160.93L634.89 161.93L634.95 162.92L635.01 163.92L635.07 164.92L635.08 165.12M636.38 187.58L636.44 188.58L636.49 189.58L636.55 190.58L636.61 191.58L636.66 192.58L636.72 193.57L636.77 194.57L636.83 195.57L636.88 196.57L636.94 197.57L636.99 198.57L637.05 199.56L637.10 200.56L637.16 201.56L637.21 202.56L637.26 203.56L637.32 204.56L637.37 205.56L637.43 206.55L637.48 207.55L637.53 208.55L637.59 209.55L637.60 209.75M638.78 232.42L638.84 233.42L638.89 234.42L638.94 235.41L638.99 236.41L639.04 237.41L639.09 238.41L639.14 239.41L639.19 240.41L639.24 241.41L639.30 242.41L639.35 243.40L639.40 244.40L639.45 245.40L639.50 246.40L639.55 247.40L639.60 248.40L639.65 249.40L639.70 250.40L639.75 251.39L639.80 252.39L639.85 253.39L639.90 254.39L639.91 254.59M641.00 276.66L641.05 277.66L641.10 278.66L641.15 279.66L641.20 280.66L641.25 281.66L641.29 282.66L641.34 283.65L641.39 284.65L641.44 285.65L641.49 286.65L641.54 287.65L641.59 288.65L641.63 289.65L641.68 290.65L641.73 291.65L641.78 292.64L641.83 293.64L641.88 294.64L641.93 295.64L641.97 296.64L642.02 297.64L642.07 298.64L642.08 298.84M643.21 322.21L643.26 323.21L643.31 324.21L643.36 325.21L643.41 326.20L643.46 327.20L643.50 328.20L643.55 329.20L643.60 330.20L643.65 331.20L643.70 332.20L643.75 333.20L643.80 334.20L643.84 335.19L643.89 336.19L643.94 337.19L643.99 338.19L644.04 339.19L644.09 340.19L644.14 341.19L644.19 342.19L644.23 343.18L644.28 344.18L644.29 344.38M645.39 366.56L645.44 367.56L645.49 368.55L645.54 369.55L645.59 370.55L645.64 371.55L645.69 372.55L645.74 373.55L645.79 374.55L645.84 375.54L645.89 376.54L645.94 377.54L645.99 378.54L646.04 379.54L646.09 380.54L646.15 381.54L646.20 382.54L646.25 383.53L646.30 384.53L646.35 385.53L646.40 386.53L646.45 387.53L646.50 388.53L646.52 388.73M647.75 411.89L647.80 412.89L647.86 413.89L647.91 414.89L647.97 415.89L648.03 416.89L648.08 417.89L648.14 418.88L648.19 419.88L648.25 420.88L648.31 421.88L648.36 422.88L648.42 423.88L648.48 424.87L648.54 425.87L648.59 426.87L648.65 427.87L648.71 428.87L648.77 429.87L648.83 430.86L648.89 431.86L648.95 432.86L649.00 433.86L649.02 434.06M650.49 457.11L650.56 458.11L650.63 459.11L650.70 460.10L650.77 461.10L650.84 462.10L650.91 463.10L650.98 464.09L651.06 465.09L651.13 466.09L651.21 467.09L651.28 468.08L651.36 469.08L651.43 470.08L651.51 471.07L651.59 472.07L651.67 473.07L651.75 474.06L651.83 475.06L651.92 476.06L652.00 477.05L652.08 478.05L652.17 479.05L652.19 479.25M654.84 502.19L655.01 503.17L655.21 504.15L655.42 505.13L655.66 506.10L655.94 507.06L656.30 507.99L656.84 508.82L657.76 508.83L658.46 508.13L658.98 507.28L659.40 506.37L659.77 505.44L660.09 504.49L660.38 503.54L660.65 502.57L660.91 501.61L661.15 500.63L661.37 499.66L661.59 498.68L661.79 497.71L661.99 496.73L662.18 495.74L662.22 495.55" fill="none" stroke="#ff0000" stroke-width="6.3" stroke-linejoin="round"/>
</g>
<rect x="443.5" y="438.3" width="230.6" height="70.0" fill="#fff"/>
<line x1="442.00" y1="438.5" x2="442.00" y2="509.0" stroke="#e8e8e8" stroke-width="1.2"/>
<line x1="442.00" y1="509.0" x2="442.00" y2="503.0" stroke="#666666" stroke-width="1.5"/>
<line x1="456.5" y1="458.5" x2="507" y2="458.5" stroke="#0000ff" stroke-width="5.5"/>
<line x1="456.8" y1="489.5" x2="507.5" y2="489.6" stroke="#ff0000" stroke-width="5.5" stroke-dasharray="25.4 21.4"/>
<g font-size="31.0"><text transform="translate(83.0 520.66) scale(0.95 1)" text-anchor="end">0</text><text transform="translate(83.0 421.32) scale(0.95 1)" text-anchor="end">0.2</text><text transform="translate(83.0 321.98) scale(0.95 1)" text-anchor="end">0.4</text><text transform="translate(83.0 222.64) scale(0.95 1)" text-anchor="end">0.6</text><text transform="translate(83.0 123.30) scale(0.95 1)" text-anchor="end">0.8</text><text transform="translate(83.0 24.96) scale(0.95 1)" text-anchor="end">1</text><text transform="translate(92.00 546.6) scale(0.95 1)" text-anchor="middle">0</text><text transform="translate(208.62 546.6) scale(0.95 1)" text-anchor="middle">0.4</text><text transform="translate(325.24 546.6) scale(0.95 1)" text-anchor="middle">0.8</text><text transform="translate(441.86 546.6) scale(0.95 1)" text-anchor="middle">1.2</text><text transform="translate(558.48 546.6) scale(0.95 1)" text-anchor="middle">1.6</text><text transform="translate(675.10 546.6) scale(0.95 1)" text-anchor="middle">2</text></g>
<text transform="translate(510 468.5) scale(0.975 1)" font-size="27.5">MoL</text>
<text transform="translate(510 498.8) scale(0.975 1)" font-size="27.5">Circuit model</text>
<text x="383.8" y="584.6" font-size="32.8" text-anchor="middle">Frequency (THz)</text>
<text transform="translate(24.6 260.1) rotate(-90)" font-size="32.8" text-anchor="middle">Absorption</text>
</svg>
</body></html>
